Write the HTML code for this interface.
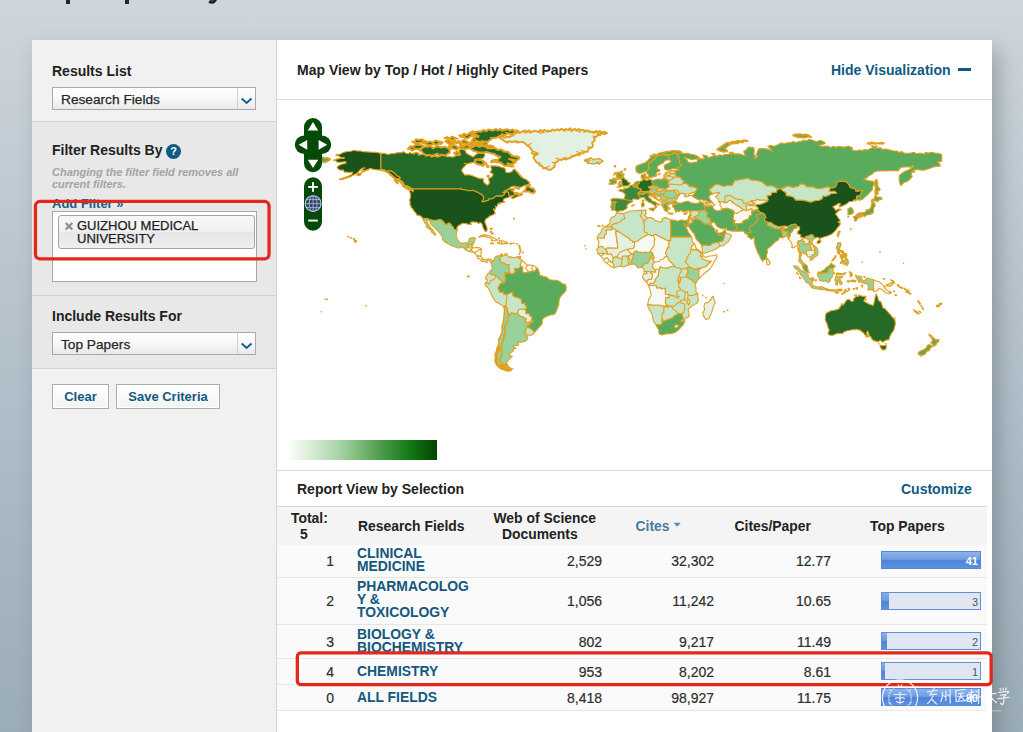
<!DOCTYPE html>
<html>
<head>
<meta charset="utf-8">
<title>InCites Essential Science Indicators</title>
<style>
*{box-sizing:border-box;margin:0;padding:0}
html,body{width:1023px;height:732px;overflow:hidden}
body{position:relative;font-family:"Liberation Sans",sans-serif;color:#222;
  background:linear-gradient(to bottom,#ced6dc 0px,#c5ced5 110px,#aebdc7 410px,#9aacb6 732px);}
.abs{position:absolute}
.b{font-weight:bold}
.h{position:absolute;font-weight:bold;font-size:14px;line-height:16px;white-space:nowrap;color:#222}
.blue{color:#105a82}
.line{position:absolute;height:1px;background:#d9d9d9}
.sel{position:absolute;left:52px;width:204px;height:23px;border:1px solid #a9a9a9;
  background:linear-gradient(to bottom,#ffffff 0%,#f6f6f6 55%,#e9e9e9 100%);font-size:13.7px;line-height:23.4px;padding-left:8px;color:#262626;white-space:nowrap;-webkit-text-stroke:0.25px #262626}
.sel i{position:absolute;right:0;top:0;width:18px;height:21px;border-left:1px solid #cfcfcf}
.btn{position:absolute;top:384px;height:25px;border:1px solid #adadad;background:linear-gradient(to bottom,#ffffff,#f3f3f3);box-shadow:inset 0 0 0 1px #fff;color:#15597f;font-weight:bold;font-size:13px;line-height:23px;text-align:center;white-space:nowrap}
.th{position:absolute;font-weight:bold;font-size:13.9px;line-height:16px;color:#222;white-space:nowrap}
.num{position:absolute;font-size:14px;line-height:16px;color:#2e2e2e;-webkit-text-stroke:0.2px #2e2e2e;text-align:right;white-space:nowrap;width:80px}
.fld{position:absolute;left:357px;font-weight:bold;font-size:13.9px;line-height:13px;color:#14587e;white-space:nowrap}
.bar{position:absolute;left:881px;width:100px;height:18px;border:1px solid #5f8fd6;background:#dfe6f2;overflow:hidden}
.bar b{position:absolute;left:0;top:0;bottom:0;background:linear-gradient(to bottom,#86aee9 0%,#6c9be1 46%,#4d84d8 54%,#5b91de 100%)}
.bar span{position:absolute;right:2px;top:3px;font-size:11px;line-height:13px;color:#555}
.bar.full{border-color:#5588d4;background:linear-gradient(to bottom,#8db4eb 0%,#709de2 46%,#4d84d8 54%,#5b91de 100%)}
.bar.full span{color:#fff;font-weight:bold}
.rowbg{position:absolute;left:277px;width:710px;background:#fafafa}
.rline{position:absolute;left:277px;width:710px;height:1px;background:#e6e6e6}
.red{position:absolute;border:2.5px solid #e6332a;border-radius:5px}
</style>
</head>
<body>
<!-- cut-off page heading descenders -->
<div class="abs" style="left:66px;top:0;width:4px;height:4px;background:#2a2622"></div>
<div class="abs" style="left:125px;top:0;width:4px;height:4px;background:#2a2622"></div>
<svg class="abs" style="left:206px;top:0" width="14" height="6"><path d="M3.2 1.2 Q5.5 2.6 7.6 1.6 Q9 0.8 9.6 -1" fill="none" stroke="#2a2622" stroke-width="3.4"/></svg>

<!-- panel shadow -->
<div class="abs" style="left:32px;top:40px;width:960px;height:720px;box-shadow:7px 10px 18px 0px rgba(70,82,90,.36)"></div>

<!-- sidebar -->
<div class="abs" style="left:32px;top:40px;width:245px;height:692px;background:#f1f1f1;border-right:1px solid #d6d6d6"></div>
<div class="abs" style="left:32px;top:121px;width:244px;height:247px;background:#e8e8e8"></div>
<div class="line" style="left:32px;top:121px;width:244px;background:#d3d3d3"></div>
<div class="line" style="left:32px;top:295px;width:244px;background:#d3d3d3"></div>
<div class="line" style="left:32px;top:368px;width:244px;background:#d3d3d3"></div>

<div class="h" style="left:52px;top:63px">Results List</div>
<div class="sel" style="top:87px">Research Fields<i><svg width="18" height="21" style="position:absolute;left:0;top:0"><path d="M3.7 10.4 L8.6 15 L13.5 10.4" fill="none" stroke="#18608a" stroke-width="2"/></svg></i></div>

<div class="h" style="left:52px;top:142px">Filter Results By</div>
<div class="abs" style="left:166px;top:144px;width:15px;height:15px;border-radius:50%;background:#0e5a82;color:#fff;font-weight:bold;font-size:11px;line-height:15px;text-align:center">?</div>
<div class="abs" style="left:52px;top:167px;font-size:11px;line-height:11.5px;font-style:italic;font-weight:bold;color:#a3a3a3;white-space:nowrap">Changing the filter field removes all<br>current filters.</div>
<div class="h blue" style="left:52px;top:195.8px;font-size:13px;color:#15608c">Add Filter »</div>
<div class="abs" style="left:52px;top:211px;width:205px;height:71px;background:#fff;border:1px solid #a8a8a8"></div>
<div class="abs" style="left:58px;top:215px;width:197px;height:34px;border:1px solid #a4a4a4;border-radius:3px;background:linear-gradient(to bottom,#f7f7f7 0%,#f0f0f0 50%,#e6e6e6 52%,#efefef 100%)"></div>
<svg class="abs" style="left:64px;top:221px" width="10" height="10"><path d="M1.7 1.9 L8.3 8.5 M8.3 1.9 L1.7 8.5" stroke="#8b8b8b" stroke-width="2.1" fill="none"/></svg>
<div class="abs" style="left:77px;top:219.2px;font-size:13px;line-height:13px;color:#1c1c24;white-space:nowrap;-webkit-text-stroke:0.25px #1c1c24">GUIZHOU MEDICAL<br>UNIVERSITY</div>
<svg class="abs" style="left:30px;top:196px" width="246" height="70" viewBox="30 196 246 70"><rect x="35.45" y="201.45" width="233.6" height="57.4" rx="4.6" ry="4.6" fill="none" stroke="#e4271d" stroke-width="3.3"/></svg>

<div class="h" style="left:52px;top:308px">Include Results For</div>
<div class="sel" style="top:332px">Top Papers<i><svg width="18" height="21" style="position:absolute;left:0;top:0"><path d="M3.7 10.4 L8.6 15 L13.5 10.4" fill="none" stroke="#18608a" stroke-width="2"/></svg></i></div>

<div class="btn" style="left:52px;width:57px">Clear</div>
<div class="btn" style="left:116px;width:104px">Save Criteria</div>

<!-- main panel -->
<div class="abs" style="left:277px;top:40px;width:715px;height:692px;background:#fff"></div>
<div class="h" style="left:297px;top:62px">Map View by Top / Hot / Highly Cited Papers</div>
<div class="h blue" style="left:831px;top:62px">Hide Visualization</div>
<div class="abs" style="left:958px;top:68px;width:13px;height:3px;background:#105a82"></div>
<div class="line" style="left:277px;top:99px;width:715px"></div>

<svg class="abs" style="left:0;top:0" width="1023" height="732" viewBox="0 0 1023 732"><g stroke="#e3a01f" stroke-width="1.1" stroke-linejoin="round">
<path fill="#f5f8f3" d="M471.3,244.3L472.8,243.0L473.1,244.8L471.7,247.6L471.3,247.6ZM469.7,251.4L471.0,250.2L471.0,250.2L472.4,251.0L473.7,252.0L473.7,252.2L471.9,252.3ZM471.0,250.2L471.3,249.1L472.8,247.9L474.2,247.7L476.8,247.6L478.6,247.5L480.3,248.1L481.8,249.2L478.9,249.5L477.2,251.1L475.4,252.2L474.4,252.8L473.7,252.2L473.7,252.0L472.4,251.0L471.0,250.2ZM474.4,252.8L475.4,252.2L477.2,251.1L478.9,249.5L481.8,249.2L481.2,251.1L481.0,253.6L480.9,256.3L479.1,256.1L477.3,256.0L475.8,254.4ZM478.6,237.1L482.1,235.1L484.7,234.9L487.3,235.3L490.8,236.3L494.3,238.3L497.5,240.0L496.0,240.6L491.3,240.7L492.2,239.3L489.9,237.8L486.4,236.9L483.8,236.2L481.2,236.7ZM497.1,242.9L499.9,243.7L501.8,244.3L501.8,240.7L499.0,240.6L499.9,242.2ZM501.8,244.3L504.8,243.4L507.6,243.6L507.7,242.9L505.1,241.6L501.8,240.7ZM490.3,243.4L493.8,243.9L493.4,243.0L491.1,243.0ZM509.7,243.2L512.3,243.2L512.1,243.9L509.7,243.9ZM518.9,256.7L520.7,256.5L520.5,257.8L519.1,257.8ZM521.0,266.3L519.8,265.1L520.3,264.9L520.2,263.7L521.0,262.3L522.2,260.5L524.9,262.8L527.1,265.0L527.0,266.3L525.9,267.4L525.7,268.6L527.0,269.6L528.4,272.1L528.4,272.1L525.7,272.7L524.2,273.1L522.9,272.2L522.3,270.7L522.9,268.4L522.1,267.5L522.2,266.5L521.0,266.3ZM528.4,272.1L527.0,269.6L525.7,268.6L525.9,267.4L527.0,266.3L527.1,265.0L529.4,265.1L532.7,265.3L532.0,266.7L531.9,268.4L532.7,269.3L531.7,271.4L531.7,271.4L529.4,271.9L528.4,272.1ZM531.7,271.4L532.7,269.3L531.9,268.4L532.0,266.7L532.7,265.3L534.7,266.1L536.8,268.1L536.2,268.9L535.2,271.0L531.7,271.4ZM611.9,227.5L611.9,229.8L606.1,229.8L606.1,234.3L604.4,235.1L604.4,238.0L597.5,238.0L597.3,239.0L598.8,241.4L598.3,247.3L601.8,246.3L603.9,248.1L605.8,249.6L607.0,248.1L617.5,248.3L617.8,246.9L615.7,231.6L618.7,231.6ZM694.6,243.9L691.8,245.7L690.9,248.8L690.8,250.5L693.3,249.4L695.3,249.9L698.4,250.8L701.2,253.6L702.4,253.2L699.1,250.1L696.1,248.3ZM702.4,253.2L701.2,253.6L700.1,256.2L701.9,256.3L702.7,255.3L702.8,254.5ZM702.7,255.3L701.9,256.3L702.2,258.6L704.0,259.7L709.2,261.4L711.0,261.4L705.7,266.7L702.2,267.4L700.3,268.5L698.7,270.5L698.7,276.7L699.7,278.2L701.4,276.0L703.1,274.5L706.3,271.8L709.2,269.7L711.0,267.5L713.3,264.0L714.1,261.6L715.9,259.0L716.9,257.2L716.7,254.8L712.7,255.7L709.2,256.0L705.7,257.2L704.9,257.2ZM648.4,285.3L649.5,284.0L650.0,283.3L652.3,283.8L653.7,282.8L655.1,281.4L655.4,279.2L658.2,276.2L658.7,271.5L659.6,269.3L656.1,269.3L655.4,271.5L655.2,272.4L652.4,271.5L650.3,271.5L650.3,273.1L651.9,273.0L652.4,276.4L651.4,279.3L648.9,279.3L647.4,280.2L646.5,282.2ZM644.2,273.6L646.9,273.6L646.9,271.5L644.2,271.4ZM655.4,271.5L655.2,270.3L653.7,268.7L652.8,267.4L652.4,264.6L654.2,262.3L655.9,262.0L659.6,261.3L660.3,259.7L662.7,259.5L665.0,256.9L667.1,256.4L668.2,257.9L669.0,260.2L670.8,262.0L673.4,264.9L675.0,266.6L670.8,266.7L666.4,268.2L662.9,267.7L660.3,266.8L659.6,269.3L656.1,269.3ZM651.7,252.5L653.1,254.1L653.5,256.5L654.4,257.9L651.6,258.1L653.7,260.6L654.2,262.3L655.9,262.0L659.6,261.3L660.3,259.7L662.7,259.5L665.0,256.9L667.1,256.4L665.5,253.2L666.4,250.9L667.3,247.9L669.0,247.9L669.0,241.3L655.1,234.3L653.3,235.1L654.9,239.7L654.2,240.4L654.2,245.8L650.7,250.2L650.9,251.5ZM648.1,234.2L640.2,238.8L637.2,241.3L634.5,241.9L634.4,245.8L633.2,248.5L629.4,248.7L627.4,249.2L628.7,251.6L630.8,253.2L630.9,254.6L632.1,253.8L633.4,255.0L634.3,251.8L636.7,251.1L639.0,252.5L640.7,252.2L642.8,253.0L644.6,252.3L648.9,252.5L650.9,251.5L650.7,250.2L654.2,245.8L654.2,240.4L654.9,239.7L653.3,235.1L651.9,235.8ZM613.9,267.8L614.0,265.3L612.4,262.1L610.7,262.5L610.5,260.7L609.1,260.6L607.0,263.3L608.2,264.4L611.4,266.7ZM607.0,263.3L609.1,260.6L608.6,259.3L607.5,257.9L605.4,258.1L603.9,259.6L604.0,260.7L605.3,262.5ZM603.9,259.6L605.4,258.1L607.5,257.9L608.6,259.3L609.1,260.6L610.5,260.7L610.7,262.5L612.4,262.1L612.6,260.6L613.3,257.6L612.6,256.2L611.4,253.7L608.4,254.4L607.2,253.7L605.4,253.8L603.2,253.3L603.2,255.0L601.4,255.3L600.9,256.3L601.8,257.2L603.2,258.8ZM600.9,256.3L601.4,255.3L603.2,255.0L603.2,253.3L597.9,253.8L599.1,254.8ZM648.6,285.6L649.8,285.5L656.1,285.5L656.8,288.0L661.0,287.5L661.2,289.0L665.2,288.0L665.5,294.5L669.0,294.2L669.0,297.8L665.5,297.8L665.5,303.3L668.0,305.7L663.8,306.3L659.4,305.3L651.9,305.3L650.7,304.7L647.6,305.1L648.1,302.6L648.9,298.7L650.5,297.1L651.2,294.4L650.2,290.6ZM702.6,295.0L703.1,295.4L702.8,295.9ZM705.7,297.3L706.3,297.5L705.9,297.8ZM727.2,309.8L728.1,310.1L727.6,310.6ZM723.7,311.3L724.6,311.7L724.1,312.2ZM723.9,283.3L724.3,283.5L724.1,283.7ZM584.6,245.8L585.5,245.7L585.2,246.2ZM585.7,248.8L586.2,249.0L585.9,249.4ZM718.8,201.9L722.9,201.5L725.0,202.7L726.7,202.7L729.5,200.2L732.0,201.1L732.1,202.5L733.7,202.9L736.3,205.0L739.8,206.8L743.4,209.7L739.8,211.6L736.7,213.4L734.0,212.7L734.0,211.0L730.7,209.5L727.1,208.2L724.1,208.6L721.3,209.7L721.3,207.0L719.7,205.0L720.6,203.6ZM734.0,212.7L736.7,213.4L739.8,211.6L743.4,209.7L745.6,210.0L748.2,210.2L749.8,209.3L752.0,208.6L752.2,210.9L755.2,209.5L758.0,209.9L757.3,210.3L752.9,211.2L751.5,211.9L752.0,213.9L751.3,215.5L749.4,215.8L749.3,217.3L748.2,219.2L746.3,219.6L743.1,221.2L743.0,222.9L738.9,223.8L736.3,223.8L733.5,223.0L735.1,221.0L733.3,220.1L733.0,217.4L733.7,214.8ZM788.4,239.2L788.9,238.1L788.9,236.9L790.0,236.5L790.1,233.3L792.4,231.2L793.5,228.8L796.6,227.9L797.1,225.9L799.6,227.0L799.6,229.8L798.0,231.1L797.7,233.5L799.9,234.6L801.0,235.1L800.5,236.7L801.9,237.4L803.9,237.7L802.9,238.8L802.0,239.8L800.1,240.7L798.4,240.9L797.3,243.0L798.0,242.9L797.8,244.4L799.9,246.7L799.4,247.4L798.7,249.2L800.3,252.3L801.2,254.8L800.5,256.2L799.3,257.9L799.4,253.7L798.5,250.9L797.8,249.2L797.7,246.5L796.6,245.7L794.9,246.9L793.8,247.9L791.7,247.4L792.2,245.1L791.4,242.5L789.4,240.2ZM845.5,291.3L849.6,289.9L849.0,290.6L845.7,291.8ZM873.5,291.1L873.5,279.9L877.0,281.2L878.0,281.5L879.8,282.1L881.9,284.4L884.0,285.7L885.4,286.3L885.4,286.9L884.0,287.0L885.7,289.2L888.0,290.9L890.7,293.1L889.2,293.7L885.7,292.8L884.3,291.8L882.2,289.4L879.6,288.5L877.9,289.5L877.5,290.7L876.1,291.3ZM325.1,298.7L326.2,298.7L325.8,299.2ZM326.7,299.2L327.6,299.3L327.1,299.7ZM320.8,311.7L321.3,311.7L321.1,312.0ZM365.7,305.5L366.5,305.7L366.2,306.2ZM879.8,251.6L880.3,251.8L880.1,252.3ZM862.1,262.0L862.5,262.3L862.1,262.6ZM903.4,263.2L903.7,263.3L903.6,263.5Z"/>
<path fill="#f5f8f3" stroke-width="1.4" d="M886.3,285.0L889.2,284.0L891.8,282.6L893.1,282.6L892.7,284.0L890.1,286.1L887.5,286.1ZM890.6,279.9L893.6,281.2L894.5,283.0L893.8,282.3L891.5,280.5ZM897.3,284.7L898.5,285.0L899.5,287.1L898.3,286.4ZM883.3,278.8L884.7,278.8L884.0,279.3ZM890.1,291.6L891.3,292.3L890.6,292.6ZM893.6,290.9L894.5,291.3L893.9,291.6ZM895.0,294.9L896.6,295.0L895.9,295.6ZM913.7,310.0L916.3,311.3L918.9,313.7L917.9,313.7L915.1,311.8ZM919.1,311.2L919.8,311.5L919.3,311.8ZM920.3,312.2L920.9,312.4L920.5,312.7Z"/>
<path fill="#f5f8f3" stroke-width="1.5" d="M490.3,228.8L492.0,228.4L491.7,229.3ZM490.4,231.6L491.3,231.4L491.0,232.8ZM491.8,233.5L493.1,233.0L492.7,234.0ZM498.5,238.5L499.4,238.3L499.0,238.8Z"/>
<path fill="#f5f8f3" stroke-width="1.6" d="M519.1,245.3L519.5,245.5L519.1,245.7ZM519.3,246.9L520.0,246.9L519.6,247.4ZM519.6,248.3L520.0,248.5L519.8,248.8ZM520.2,249.5L520.7,249.9L520.5,250.2ZM520.3,250.9L520.7,251.1L520.5,251.5ZM520.0,252.2L520.3,252.3L520.2,252.5ZM522.8,252.2L523.3,252.3L522.9,252.7ZM519.1,254.1L519.5,254.3L519.3,254.4ZM516.8,243.7L517.2,243.7L517.0,243.9ZM513.7,243.2L514.2,243.2L513.9,243.4ZM506.2,253.7L506.9,254.1L506.5,254.3ZM513.9,218.5L514.2,218.7L514.0,218.8ZM614.3,165.9L615.6,165.9L615.0,166.8ZM900.6,286.9L902.3,288.0L901.5,288.2ZM904.1,288.3L906.4,289.9L905.0,289.5ZM906.0,291.4L908.1,292.3L906.7,292.5ZM907.9,289.9L909.0,291.8L908.3,290.9ZM909.0,293.0L910.7,293.8L909.8,294.0ZM918.2,300.7L919.3,302.3L918.4,302.3ZM919.3,302.9L920.3,303.8L919.6,304.0ZM921.0,305.7L921.6,306.0L921.0,306.2ZM922.4,307.6L923.0,307.9L922.6,308.1ZM923.0,308.8L923.3,309.1L923.0,309.3ZM936.9,305.3L939.2,305.7L939.0,306.5L936.9,306.5ZM939.4,304.0L941.7,303.3L941.3,304.3L939.6,304.7Z"/>
<path fill="#e2f1e1" d="M477.3,256.0L479.1,256.1L480.9,256.3L482.8,258.7L482.2,259.7L482.2,261.3L480.8,260.2L479.1,258.6L477.2,257.9ZM482.2,261.3L482.2,259.7L482.8,258.7L484.7,260.0L487.3,259.2L489.9,259.0L491.8,260.3L492.2,261.6L491.0,262.8L490.1,261.4L488.2,259.9L486.6,261.1L487.3,262.5L485.6,262.1L484.3,261.4ZM517.6,313.6L520.5,316.3L522.2,316.6L526.4,318.9L524.7,322.1L527.5,322.6L529.4,322.3L531.2,321.2L531.7,319.4L531.7,319.4L532.2,316.8L530.3,316.5L529.6,313.7L525.9,313.4L526.0,311.3L525.5,310.0L525.5,310.0L523.8,308.7L519.1,309.2L518.2,310.7L517.6,313.6ZM659.4,200.7L657.9,199.7L655.4,197.6L654.6,196.5L654.7,195.8L656.8,195.8L660.3,196.4L661.0,197.4L660.7,198.8L660.1,199.1ZM659.4,200.7L660.1,199.1L660.7,198.8L662.6,199.7L662.1,200.5L661.0,201.7ZM661.0,201.7L662.1,200.5L663.1,201.7L662.9,203.1L663.8,203.5L663.3,204.5L662.1,205.5L661.0,204.3L661.2,202.7ZM663.1,201.7L664.7,201.0L666.2,200.9L667.2,202.6L663.8,203.5L662.9,203.1ZM673.6,190.4L676.2,192.8L676.4,195.3L676.9,195.2L679.7,193.6L678.1,191.7L678.0,190.8L675.3,190.0ZM678.8,277.8L680.3,277.2L681.0,279.4L679.4,280.2L677.8,280.0ZM677.8,280.0L679.4,280.2L681.0,279.4L680.4,281.1L679.2,283.1L678.3,283.0L678.1,281.1ZM646.5,282.2L647.4,280.2L648.9,279.3L651.4,279.3L652.4,276.4L651.9,273.0L650.3,273.1L650.3,271.5L646.9,271.5L646.9,273.6L644.2,273.6L643.5,274.7L642.3,276.5L643.9,279.5ZM622.3,258.6L622.2,256.2L626.8,256.0L628.7,256.2L630.9,254.6L630.8,253.2L628.7,251.6L627.4,249.2L623.6,250.6L620.1,252.2L617.5,255.5L617.5,257.2L619.6,258.5ZM605.8,249.6L607.0,248.1L617.5,248.3L617.8,246.9L615.7,231.6L618.7,231.6L629.2,238.5L630.2,239.9L632.7,240.7L632.9,242.2L634.5,241.9L634.4,245.8L633.2,248.5L629.4,248.7L627.4,249.2L623.6,250.6L620.1,252.2L617.5,255.5L617.5,257.2L616.3,257.1L613.3,257.6L612.6,256.2L611.4,253.7L608.4,254.4L607.2,253.7L607.2,252.0ZM713.3,296.1L713.9,299.3L715.3,302.8L714.1,304.7L713.4,306.7L711.7,312.4L710.4,314.9L709.2,318.4L706.1,319.4L703.4,315.6L702.8,312.9L704.7,309.8L704.0,306.4L704.7,303.3L708.0,302.4L710.8,299.5L712.4,296.9ZM696.9,199.0L700.5,199.3L703.1,200.0L705.7,200.2L708.2,201.7L708.7,202.7L705.7,202.8L703.0,203.1L701.9,202.3L699.7,202.4L700.0,201.6L699.4,200.2ZM703.0,203.1L705.7,202.8L706.8,204.3L708.4,205.9L708.4,207.0L705.7,206.1L705.4,205.5L703.5,204.8ZM751.1,201.0L751.2,200.5L755.5,200.7L756.4,199.3L759.9,199.9L765.2,200.0L767.2,201.4L763.4,203.2L760.8,204.3L756.4,204.8L755.8,206.0L752.0,205.8L749.4,205.8L750.3,204.6L752.4,204.8L754.8,203.5L752.7,202.7ZM745.6,210.0L746.6,208.2L745.6,206.3L747.0,204.8L750.3,204.6L749.4,205.8L752.0,205.8L755.8,206.0L758.2,207.7L758.0,209.9L755.2,209.5L752.2,210.9L752.0,208.6L749.8,209.3L748.2,210.2ZM787.3,226.6L788.0,228.3L784.4,228.5L782.4,228.1L782.5,227.5L783.5,226.1L785.2,226.1ZM767.2,258.3L769.0,260.6L770.2,262.6L769.7,264.2L767.9,265.0L766.9,264.4L766.6,262.3L766.7,259.9ZM802.0,239.8L802.9,238.8L803.9,237.7L805.0,238.3L805.6,236.2L807.1,238.6L808.8,239.7L810.4,241.1L808.7,241.6L810.9,243.2L813.4,245.8L815.1,249.2L815.0,249.7L812.3,250.3L810.9,250.3L811.6,247.9L810.1,246.5L810.1,245.0L808.7,243.4L806.4,244.0L805.5,244.1L803.6,244.8L804.1,241.3L802.7,241.3ZM806.9,255.0L806.0,251.6L807.1,250.5L810.9,250.3L812.3,250.3L815.0,249.7L815.0,253.9L812.3,255.0L812.0,256.2L809.6,257.2L808.0,256.9L807.1,255.7Z"/>
<path fill="#e2f1e1" stroke-width="1.9" d="M499.5,137.8L501.4,136.4L504.9,137.6L507.4,136.6L510.0,136.7L513.5,135.2L510.0,134.2L512.8,134.6L515.3,133.3L517.9,131.9L519.5,133.0L522.2,131.7L525.0,130.4L526.9,132.3L529.2,130.3L531.2,132.4L534.3,130.6L536.2,131.2L538.4,132.1L540.5,130.0L542.4,132.0L544.3,129.9L546.6,131.4L548.5,130.5L550.8,131.4L552.7,129.5L554.7,130.7L557.0,129.3L559.0,130.3L561.6,128.9L563.8,130.4L565.9,129.1L568.2,129.8L570.4,128.2L572.4,130.5L574.6,128.7L576.6,130.5L579.1,129.0L580.9,130.4L583.4,130.0L585.8,131.4L587.5,130.2L590.3,131.8L592.1,131.7L593.8,133.0L596.4,130.9L597.6,133.1L599.8,131.0L602.4,133.1L604.4,131.7L606.1,132.6L604.8,134.2L600.9,133.0L600.2,135.2L597.4,135.2L596.5,136.9L593.9,137.8L594.8,140.4L592.1,143.0L593.0,145.6L591.9,147.6L588.7,148.2L587.8,151.7L584.8,151.6L583.4,153.4L580.5,153.2L579.5,155.3L576.9,154.6L574.7,155.8L571.7,156.3L570.2,158.3L567.7,158.6L565.7,159.6L563.4,158.5L561.6,160.0L559.3,159.6L557.2,161.6L555.2,162.8L554.6,165.0L554.5,166.9L552.3,168.5L550.4,170.0L547.6,169.4L545.7,168.0L543.2,168.2L541.9,165.8L539.7,165.6L538.8,163.3L536.8,162.6L534.5,159.5L533.3,156.9L536.2,154.8L538.0,153.8L536.2,152.5L534.0,154.2L531.9,153.2L532.7,151.2L531.0,149.1L529.2,146.5L527.3,145.7L525.7,143.9L523.2,141.9L520.5,142.1L516.9,142.5L514.7,141.4L511.8,142.0L509.1,141.1L507.4,142.7L504.8,141.3L503.0,139.9Z"/>
<path fill="#c7e5c7" d="M466.0,250.0L466.0,248.8L466.9,247.2L469.1,247.2L469.1,246.7L467.4,245.2L468.1,245.2L468.1,244.3L471.3,244.3L471.3,244.3L471.3,247.6L471.7,247.6L472.8,247.9L472.8,247.9L471.3,249.1L471.0,250.2L471.0,250.2L469.7,251.4L467.6,251.1ZM510.3,273.3L509.8,272.4L508.6,270.5L509.5,269.4L508.5,267.5L508.6,266.1L509.2,264.6L505.8,264.7L504.6,263.2L500.6,262.5L500.4,260.7L499.5,258.3L500.8,256.0L502.5,254.8L502.0,256.4L504.4,255.5L504.8,254.1L505.3,255.3L507.6,255.8L508.3,257.1L511.8,256.9L513.7,257.8L517.0,256.7L518.9,256.7L517.7,257.4L520.9,259.2L522.2,260.5L521.0,262.3L520.2,263.7L520.3,264.9L519.8,265.1L521.0,266.3L521.0,266.3L519.6,267.7L517.4,268.9L514.9,268.2L514.6,271.0L516.3,271.5L515.3,272.1L513.0,273.8L511.2,274.0L510.3,273.3ZM489.4,272.9L487.3,274.0L487.1,275.5L485.7,277.1L485.7,279.2L487.5,279.9L486.8,281.2L486.6,283.0L488.2,283.9L489.7,283.3L490.3,281.2L491.1,280.5L493.2,279.9L495.1,278.0L495.5,275.5L493.8,274.7L491.8,274.7ZM495.5,275.5L495.1,278.0L493.2,279.9L491.1,280.5L490.3,281.2L489.7,283.3L488.2,283.9L486.6,283.0L486.8,281.2L485.0,283.5L485.4,285.6L487.5,287.3L489.0,289.5L490.4,292.6L492.3,296.2L493.8,299.2L495.7,301.7L498.7,303.5L501.3,304.7L502.5,305.8L504.1,307.0L505.6,305.5L506.5,303.3L506.2,301.7L505.8,300.9L506.7,299.9L506.8,297.5L507.1,296.9L505.6,294.3L503.7,294.4L503.7,291.8L500.9,292.6L499.7,291.6L499.2,291.6L499.6,290.9L497.8,288.2L498.3,287.3L499.4,285.7L499.7,284.4L501.5,283.1L503.4,282.6L504.9,282.6L503.6,281.9L499.7,279.5L497.8,277.1ZM505.6,305.5L506.6,307.9L507.5,308.8L507.0,310.5L507.9,312.0L508.4,314.7L509.7,314.6L509.7,314.6L511.4,312.9L513.2,313.4L514.7,314.7L515.4,313.2L517.6,313.6L517.6,313.6L518.2,310.7L519.1,309.2L523.8,308.7L525.5,310.0L525.5,310.0L526.3,308.1L526.6,306.7L525.0,305.2L525.0,303.5L521.9,303.4L521.4,301.4L521.4,299.2L518.8,298.0L516.7,297.2L514.6,296.8L513.0,295.6L512.9,292.3L510.7,292.5L507.2,294.5L505.6,294.3L505.6,294.3L507.1,296.9L506.8,297.5L506.7,299.9L505.8,300.9L506.2,301.7L506.5,303.3L505.6,305.5ZM533.8,333.2L532.7,334.5L531.1,335.3L528.9,335.2L526.1,334.4L525.0,333.5L525.0,333.5L525.6,330.8L526.1,328.5L526.4,327.2L526.4,327.2L527.8,327.0L529.9,328.3L531.7,329.4L534.1,331.4L533.8,333.2ZM656.7,189.7L657.2,189.3L658.9,188.5L660.0,188.1L661.2,188.0L662.1,188.7L663.8,188.3L666.5,188.9L665.8,190.1L662.9,189.9L662.1,190.4L660.0,191.2L658.2,191.2L657.1,190.8ZM669.7,173.6L669.9,172.8L668.2,172.2L668.2,171.3L671.7,170.6L676.0,170.9L675.0,172.0L675.2,173.7L674.9,174.2L672.5,173.6L671.3,173.4ZM665.5,172.3L667.3,172.3L666.9,173.2L665.5,173.2ZM663.9,176.8L665.5,176.1L670.8,176.1L673.6,177.4L676.4,176.6L675.7,174.6L674.9,174.2L672.5,173.6L671.3,173.4L669.7,173.6L669.2,175.1L667.6,174.9L666.6,173.8L665.0,174.1L663.8,175.1ZM663.9,176.8L665.5,176.1L670.8,176.1L673.6,177.4L673.9,178.1L672.2,178.7L671.7,179.8L668.2,180.4L666.9,179.7L666.6,178.5L664.3,178.1ZM668.2,180.4L671.7,179.8L672.2,178.7L673.9,178.1L673.6,177.4L676.4,176.6L679.5,177.1L681.1,177.5L681.3,179.1L684.2,181.3L682.7,183.6L680.4,185.0L674.6,184.5L670.8,184.0L668.4,184.6L667.6,183.3L668.9,182.6ZM668.4,184.6L670.8,184.0L674.6,184.5L680.4,185.0L682.7,183.6L686.2,183.2L689.1,185.5L689.3,186.6L692.6,186.6L695.1,187.4L697.2,188.0L696.5,190.8L693.9,192.4L691.4,193.1L688.4,194.0L688.3,194.9L688.8,195.6L690.9,195.5L689.0,196.1L685.8,197.2L683.9,195.5L686.0,194.1L682.7,193.3L680.8,193.5L678.9,195.8L676.4,195.3L676.9,195.2L679.7,193.6L678.1,191.7L678.0,190.8L675.3,190.0L673.6,190.4L669.9,190.9L667.1,190.8L665.8,190.1L666.5,188.9L666.7,188.0L669.2,186.4ZM623.3,213.7L621.9,213.4L619.2,213.5L617.8,212.3L616.8,212.5L615.2,215.7L613.8,216.4L610.8,218.3L610.0,220.1L610.3,222.0L609.3,224.0L607.0,225.8L604.0,226.9L611.9,226.9L611.9,225.0L614.9,223.6L617.8,222.9L620.8,221.5L621.9,219.6L625.0,218.8L624.1,216.2L624.0,214.8ZM611.9,226.9L604.0,226.9L601.8,229.5L601.1,232.1L599.3,233.9L597.6,236.5L597.2,237.9L597.3,239.0L597.5,238.0L604.4,238.0L604.4,235.1L606.1,234.3L606.1,229.8L611.9,229.8L611.9,227.5ZM623.3,213.7L624.0,214.8L624.1,216.2L625.0,218.8L621.9,219.6L620.8,221.5L617.8,222.9L614.9,223.6L611.9,225.0L611.9,226.9L611.9,227.5L618.7,231.6L629.2,238.5L630.2,239.9L632.7,240.7L632.9,242.2L634.5,241.9L637.2,241.3L640.2,238.8L648.1,234.2L647.2,232.8L644.6,232.1L643.5,229.6L644.4,228.9L644.4,225.8L643.7,222.3L642.9,219.0L640.2,215.8L641.6,214.4L641.4,212.1L642.1,210.4L639.3,210.2L636.0,210.8L632.3,210.7L629.7,211.2L626.1,212.6ZM642.1,210.4L641.4,212.1L641.6,214.4L640.2,215.8L642.9,219.0L643.7,222.3L644.9,221.5L645.1,219.7L647.2,218.5L647.3,217.2L646.7,217.1L644.7,215.8L644.7,215.1L646.5,213.5L645.4,212.5L645.6,211.4L646.4,210.3L644.2,209.7ZM647.3,217.2L647.2,218.5L645.1,219.7L644.9,221.5L643.7,222.3L644.4,225.8L644.4,228.9L643.5,229.6L644.6,232.1L647.2,232.8L648.1,234.2L651.9,235.8L653.3,235.1L655.1,234.3L669.0,241.3L669.0,240.4L670.8,240.4L670.8,236.9L670.8,224.2L670.3,222.4L671.0,219.8L669.0,219.2L667.5,218.1L664.7,217.6L662.2,219.0L662.1,221.0L660.7,222.2L657.7,221.2L654.5,220.3L653.5,218.5L650.2,217.6ZM691.6,236.9L670.8,236.9L670.8,240.4L669.0,240.4L669.0,241.3L669.0,247.9L667.3,247.9L666.4,250.9L665.5,253.2L667.1,256.4L668.2,257.9L669.0,260.2L670.8,262.0L673.4,264.9L675.0,266.6L676.0,267.7L678.7,267.7L681.0,269.3L681.3,268.9L684.8,268.7L686.5,268.1L689.8,267.4L688.8,266.0L686.5,263.2L684.8,261.6L686.7,260.4L687.0,257.1L688.1,256.5L688.4,254.8L690.2,253.2L690.8,250.5L690.9,248.8L691.8,245.7L694.6,243.9L692.1,241.1L692.1,238.6ZM690.8,250.5L693.3,249.4L695.3,249.9L698.4,250.8L701.2,253.6L701.2,253.6L700.1,256.2L701.9,256.3L702.2,258.6L704.0,259.7L709.2,261.4L711.0,261.4L705.7,266.7L702.2,267.4L700.3,268.5L698.4,268.1L696.1,269.4L693.7,269.1L691.6,267.7L689.8,267.4L688.8,266.0L686.5,263.2L684.8,261.6L686.7,260.4L687.0,257.1L688.1,256.5L688.4,254.8L690.2,253.2ZM686.5,277.1L686.3,275.2L687.4,273.4L688.3,272.1L687.2,269.3L686.5,268.1L684.8,268.7L681.3,268.9L681.0,269.3L681.3,271.5L679.4,274.3L678.8,276.2L678.8,277.8L680.3,277.2ZM695.6,283.4L693.0,281.4L692.8,280.5L686.5,277.1L680.3,277.2L681.0,279.4L680.4,281.1L679.2,283.1L678.3,283.0L678.7,286.6L680.8,289.5L681.3,290.2L684.7,291.6L687.4,291.9L688.2,295.3L690.9,295.6L694.4,295.0L697.8,293.5L695.8,291.8L696.1,289.2L695.8,287.1L694.9,285.7ZM648.6,285.6L649.8,285.5L656.1,285.5L656.8,288.0L661.0,287.5L661.2,289.0L665.2,288.0L665.5,294.5L669.0,294.2L671.3,295.4L674.3,296.1L677.8,298.5L679.2,296.4L676.7,295.9L677.1,291.4L680.8,289.5L678.7,286.6L678.3,283.0L678.1,281.1L677.8,280.0L678.8,277.8L678.8,276.2L679.4,274.3L681.3,271.5L681.0,269.3L678.7,267.7L676.0,267.7L675.0,266.6L670.8,266.7L666.4,268.2L662.9,267.7L660.3,266.8L659.6,269.3L658.7,271.5L658.2,276.2L655.4,279.2L655.1,281.4L653.7,282.8L652.3,283.8L650.0,283.3L649.5,284.0L648.4,285.3ZM644.2,271.4L646.9,271.5L650.3,271.5L652.4,271.5L655.2,272.4L655.4,271.5L655.2,270.3L653.7,268.7L652.8,267.4L652.4,264.6L654.2,262.3L653.7,260.6L651.6,258.1L654.4,257.9L653.5,256.5L653.1,254.1L651.7,252.5L651.9,253.7L652.6,255.3L651.2,256.2L648.6,260.6L647.7,263.2L645.6,263.2L643.4,264.6L642.0,267.2L642.8,268.4L643.7,268.6L644.1,269.1ZM631.8,264.3L632.0,259.7L633.4,257.4L633.4,255.0L632.1,253.8L630.9,254.6L628.7,256.2L628.5,257.4L629.9,259.7L629.9,264.5ZM629.9,264.5L629.9,259.7L628.5,257.4L628.7,256.2L626.8,256.0L628.0,257.9L627.8,260.6L628.3,263.5L629.2,264.7ZM629.2,264.7L628.3,263.5L627.8,260.6L628.0,257.9L626.8,256.0L622.2,256.2L622.3,258.6L621.5,263.5L621.7,266.5L623.6,267.1L626.8,265.8ZM621.7,266.5L621.5,263.5L622.3,258.6L619.6,258.5L617.5,257.2L616.3,257.1L613.3,257.6L612.6,260.6L612.4,262.1L614.0,265.3L613.9,267.8L616.6,267.0L620.1,266.3ZM597.9,253.8L603.2,253.3L605.4,253.8L607.2,253.7L607.2,252.0L605.8,249.6L603.9,248.1L601.8,246.3L598.3,247.3L596.5,249.6L597.7,251.3ZM669.0,294.2L669.0,297.8L665.5,297.8L665.5,303.3L668.0,305.7L671.2,306.0L674.3,306.3L677.6,302.9L680.2,302.3L679.9,300.9L685.1,299.5L684.2,298.8L684.8,296.9L685.3,294.4L684.7,291.6L681.3,290.2L680.8,289.5L677.1,291.4L676.7,295.9L679.2,296.4L677.8,298.5L674.3,296.1L671.3,295.4ZM684.7,291.6L685.3,294.4L684.8,296.9L684.2,298.8L685.1,299.5L687.4,300.4L687.0,302.6L688.8,304.8L689.7,302.9L689.7,300.5L687.6,298.5L688.2,295.3L687.4,291.9ZM697.8,293.5L694.4,295.0L690.9,295.6L688.2,295.3L687.6,298.5L689.7,300.5L689.7,302.9L688.8,304.8L687.0,302.6L687.4,300.4L685.1,299.5L679.9,300.9L680.2,302.3L681.3,302.9L684.6,304.1L684.6,307.2L684.6,309.8L683.9,312.0L681.8,313.9L682.9,317.3L683.0,319.9L683.2,321.5L684.6,321.5L684.8,318.8L689.1,316.4L688.8,312.4L688.0,309.5L691.6,306.2L694.2,304.6L697.0,303.3L698.4,300.4L698.0,296.9ZM671.2,306.0L674.3,306.3L677.6,302.9L680.2,302.3L681.3,302.9L684.6,304.1L684.6,307.2L684.6,309.8L683.9,312.0L681.8,313.9L678.5,313.6L675.5,310.6L672.9,308.9ZM671.2,306.0L672.9,308.9L675.5,310.6L678.5,313.6L674.3,316.0L672.4,317.9L669.0,319.4L666.8,320.0L663.3,321.5L662.1,317.9L662.1,313.2L663.8,313.2L663.8,306.9L668.0,306.9ZM647.6,305.1L650.7,304.7L651.9,305.3L659.4,305.3L663.8,306.3L668.0,305.7L671.2,306.0L668.0,306.9L663.8,306.9L663.8,313.2L662.1,313.2L662.1,317.9L662.1,324.1L660.3,325.0L657.7,324.6L655.8,324.5L653.7,321.7L652.4,316.6L652.4,314.7L650.5,311.2L648.1,307.2ZM705.7,202.8L708.7,202.7L708.2,201.7L709.8,202.8L711.9,201.7L713.6,204.0L715.0,204.3L713.4,206.1L712.6,207.8L711.6,206.1L711.0,205.5L708.4,207.0L708.4,205.9L706.8,204.3ZM708.4,224.3L710.5,222.6L710.9,222.7L711.9,222.8L711.3,223.6L711.7,225.3L710.1,225.3ZM719.9,246.3L718.0,242.2L718.0,242.2L723.2,240.4L724.3,236.9L725.0,233.3L725.6,231.7L726.7,233.3L729.5,234.0L731.6,235.9L729.7,239.5L728.1,242.2L726.7,242.3L725.5,244.1L723.2,245.7ZM701.9,246.7L702.6,246.2L702.8,244.8L704.0,245.0L708.2,245.2L710.1,245.5L712.7,242.9L718.0,242.2L719.9,246.3L718.3,247.4L716.2,248.8L712.7,250.4L709.2,251.6L705.7,253.0L703.1,253.3L702.6,251.8L702.1,249.4ZM688.2,223.9L690.0,224.2L691.2,223.0L692.6,222.7L693.5,221.9L691.8,220.1L695.6,218.9L694.9,216.8L691.4,218.7L689.6,217.9L689.2,218.5L689.1,220.1L688.2,223.5ZM689.8,212.2L690.4,212.3L691.1,211.8L691.2,210.7L693.5,210.7L697.0,210.7L701.2,210.2L699.1,211.4L698.7,215.0L694.9,216.8L691.4,218.7L689.6,217.9L689.7,216.9L691.1,215.3L690.0,214.5ZM713.1,193.8L711.9,193.3L708.9,190.1L711.9,187.2L715.9,184.3L718.5,184.3L723.2,186.2L728.5,185.3L732.0,185.5L733.7,182.2L734.6,180.5L741.6,179.3L747.7,178.1L751.5,180.0L755.5,180.3L761.7,181.5L766.9,185.9L772.1,185.5L776.5,188.0L779.7,188.7L777.0,190.1L776.5,192.5L772.1,192.2L770.9,195.2L766.9,196.1L768.3,199.4L767.2,201.4L765.2,200.0L759.9,199.9L756.4,199.3L755.5,200.7L751.2,200.5L751.1,201.0L747.7,202.7L745.9,203.6L743.3,202.9L742.4,199.9L735.4,198.8L733.7,197.4L729.3,195.2L725.0,196.1L725.0,202.7L722.9,201.5L718.8,201.9L718.8,200.0L716.2,197.0L715.0,196.8L716.6,195.6L719.7,192.8L717.8,192.4ZM725.0,202.7L725.0,196.1L729.3,195.2L733.7,197.4L735.4,198.8L742.4,199.9L743.3,202.9L745.9,203.6L747.7,202.7L751.1,201.0L752.7,202.7L754.8,203.5L752.4,204.8L750.3,204.6L747.0,204.8L745.6,206.3L746.6,208.2L745.6,210.0L743.4,209.7L739.8,206.8L736.3,205.0L733.7,202.9L732.1,202.5L732.0,201.1L729.5,200.2L726.7,202.7ZM780.5,188.7L782.5,190.6L785.9,192.8L786.1,195.8L790.5,196.3L793.8,197.5L795.6,200.1L801.9,200.3L805.0,200.6L810.6,202.2L815.0,200.7L819.3,200.3L822.6,198.4L822.7,196.0L825.6,196.6L829.6,194.9L830.9,193.8L836.5,193.2L836.6,192.6L834.2,191.0L833.0,191.4L829.1,191.0L831.0,187.5L827.2,186.8L821.1,188.4L815.8,188.1L813.2,186.7L806.2,186.6L805.7,185.0L800.1,183.8L798.4,186.2L793.1,187.2L787.9,185.9L782.6,188.0ZM467.2,275.9L468.3,276.0L467.9,277.1ZM469.0,276.2L469.5,276.4L469.1,276.7Z"/>
<path fill="#c7e5c7" stroke-width="1.3" d="M584.3,160.4L586.9,158.8L589.5,160.2L588.7,158.8L591.3,157.9L593.8,159.8L595.6,159.1L599.1,158.6L601.8,160.4L603.3,161.2L600.9,162.6L599.4,164.0L596.3,162.7L594.8,164.0L591.3,163.7L587.4,163.3L588.7,162.3L585.2,161.4L588.7,160.7L586.5,161.4ZM650.9,195.3L652.6,195.0L653.8,195.2L654.5,194.0L655.8,193.4L656.1,193.6L657.9,194.5L660.1,194.5L660.5,196.1L660.3,196.4L656.8,195.8L654.7,195.8L654.6,196.5L655.4,197.6L657.9,199.7L659.4,200.7L657.7,199.9L655.8,198.8L653.7,197.6L653.1,196.1L652.3,195.6L651.4,196.5Z"/>
<path fill="#98d19a" d="M422.4,218.3L426.5,218.3L433.0,220.4L438.0,220.4L438.0,219.6L441.0,219.6L443.8,221.7L444.5,223.5L446.9,224.6L448.2,223.1L449.7,223.1L451.0,224.2L451.8,225.8L453.2,227.2L453.9,229.1L455.5,229.7L457.3,229.9L456.4,233.3L456.2,236.3L457.2,239.2L459.0,241.6L459.7,242.5L462.0,243.6L464.9,242.9L467.2,243.0L469.0,240.6L469.3,238.5L471.9,237.7L474.2,237.8L475.4,238.3L474.4,241.3L473.7,243.4L472.8,243.0L471.3,244.3L471.3,244.3L468.1,244.3L468.1,245.2L467.4,245.2L469.1,246.7L469.1,247.2L466.9,247.2L466.0,248.8L466.0,250.0L464.2,248.3L461.8,247.1L459.3,247.9L456.7,247.6L452.5,245.9L448.5,244.0L444.8,242.0L442.6,239.7L442.7,237.8L441.2,234.8L438.4,231.6L435.7,228.8L433.1,226.3L431.0,224.0L429.6,220.6L426.5,219.6L426.7,221.3L428.6,224.5L430.0,226.6L432.6,229.8L434.4,232.8L435.9,234.4L435.0,235.3L434.4,234.4L431.2,231.9L430.9,229.8L428.2,228.4L426.1,226.6L427.5,226.1L424.9,223.1L424.4,222.0L423.3,219.7ZM491.8,260.3L492.9,261.4L494.3,259.2L495.2,256.9L496.4,256.1L499.2,255.7L500.9,254.6L501.9,253.6L502.5,254.8L500.8,256.0L499.5,258.3L500.4,260.7L500.6,262.5L504.6,263.2L505.8,264.7L509.2,264.6L508.6,266.1L508.5,267.5L509.5,269.4L508.6,270.5L509.8,272.4L510.3,273.3L510.3,273.3L509.8,273.3L505.0,272.4L505.0,273.5L506.2,273.6L505.6,274.3L504.7,274.4L504.7,275.7L505.8,277.3L504.9,282.6L504.9,282.6L503.6,281.9L499.7,279.5L497.8,277.1L495.5,275.5L495.5,275.5L493.8,274.7L491.8,274.7L489.4,272.9L490.1,270.8L492.4,268.6L491.7,265.8L491.8,263.9L491.0,262.8L492.2,261.6ZM526.4,327.2L526.1,328.5L525.6,330.8L525.0,333.5L525.0,334.7L527.3,336.0L526.8,337.0L528.0,337.5L526.6,340.4L524.5,341.4L520.5,342.1L518.4,341.8L518.6,343.6L518.2,345.3L515.6,345.8L513.5,345.2L513.3,346.4L516.0,348.2L513.5,348.6L513.5,349.4L513.0,351.6L510.9,352.6L509.1,354.0L510.4,355.7L512.2,356.0L511.9,356.9L509.0,359.6L507.4,361.3L506.2,363.5L507.6,364.8L504.8,364.2L501.5,364.2L500.8,362.0L499.2,360.9L499.4,359.6L500.9,357.9L500.8,356.2L501.8,355.0L502.0,352.3L501.6,350.6L501.8,348.9L501.3,347.2L501.6,345.2L501.8,343.1L503.2,341.4L502.9,339.6L504.1,337.4L503.9,335.7L505.0,334.0L505.1,332.3L504.8,331.3L504.3,328.5L504.9,327.2L505.1,325.1L505.8,324.0L507.4,321.9L507.6,318.8L507.4,317.5L509.7,314.6L509.7,314.6L511.4,312.9L513.2,313.4L514.7,314.7L515.4,313.2L517.6,313.6L517.6,313.6L520.5,316.3L522.2,316.6L526.4,318.9L524.7,322.1L527.5,322.6L529.4,322.3L531.2,321.2L531.7,319.4L531.7,319.4L533.1,320.5L533.1,322.0L531.3,322.6L529.6,324.0L526.4,327.2ZM507.2,365.3L507.2,369.3L510.9,369.5L513.2,368.8L510.9,368.5L508.3,366.5ZM637.2,188.0L637.1,187.6L637.8,187.0L638.5,187.6L638.2,188.2ZM643.9,191.6L643.8,192.4L645.4,192.8L646.3,192.9L648.4,192.6L648.8,193.1L651.0,193.5L652.6,193.6L654.4,193.1L655.2,192.8L655.9,191.7L657.1,190.8L656.7,189.7L653.3,189.0L652.8,189.7L651.2,189.5L650.6,189.8L649.5,190.5L649.8,191.7L648.4,191.4L645.4,191.6ZM648.9,187.6L648.2,186.7L649.8,186.5L652.1,185.5L653.0,185.8L655.6,186.1L656.6,186.6L658.6,187.2L660.0,188.1L658.9,188.5L657.2,189.3L656.7,189.7L653.3,189.0L652.8,189.7ZM655.2,192.8L655.9,191.7L657.1,190.8L658.2,191.2L660.0,191.2L662.1,190.4L662.9,189.9L665.8,190.1L667.1,190.8L665.5,191.9L664.1,193.6L662.5,194.1L660.3,194.4L660.1,194.5L657.9,194.5L656.1,193.6L655.8,193.4ZM651.2,195.1L650.9,194.4L651.0,193.5L652.6,193.6L654.4,193.1L655.2,192.8L655.8,193.4L654.5,194.0L653.8,195.2L652.6,195.0L650.9,195.3ZM660.1,194.5L660.3,194.4L662.5,194.1L664.5,196.4L666.4,196.7L666.8,197.6L666.2,198.3L667.3,199.3L666.2,200.9L664.7,201.0L663.1,201.7L662.1,200.5L662.6,199.7L660.7,198.8L661.0,197.4L660.3,196.4L660.5,196.1ZM666.8,197.6L666.2,198.3L667.3,199.3L666.2,200.9L667.2,202.6L669.0,202.4L671.3,202.8L673.1,202.0L676.0,201.5L675.9,200.2L677.1,198.4L674.3,197.6L671.7,198.5ZM667.1,190.8L665.5,191.9L664.1,193.6L662.5,194.1L664.5,196.4L666.4,196.7L666.8,197.6L671.7,198.5L674.3,197.6L677.1,198.4L678.9,195.8L676.4,195.3L676.2,192.8L673.6,190.4L669.9,190.9ZM683.5,213.8L684.8,213.2L687.6,212.6L686.5,213.9L684.8,214.6ZM622.4,184.5L621.7,182.2L621.7,181.5L619.4,181.4L618.9,182.4L619.9,182.9L617.8,184.0L618.2,184.4L621.5,184.8ZM616.3,180.3L617.5,179.4L616.3,178.2L614.3,178.5L613.1,179.4L614.3,180.1ZM699.7,278.2L698.7,276.7L698.7,270.5L700.3,268.5L698.4,268.1L696.1,269.4L693.7,269.1L691.6,267.7L689.8,267.4L686.5,268.1L687.2,269.3L688.3,272.1L687.4,273.4L686.3,275.2L686.5,277.1L692.8,280.5L693.0,281.4L695.6,283.4L696.4,282.4L697.2,280.9L697.3,280.2ZM642.0,267.2L643.4,264.6L645.6,263.2L647.7,263.2L648.6,260.6L651.2,256.2L652.6,255.3L651.9,253.7L651.7,252.5L650.9,251.5L648.9,252.5L644.6,252.3L642.8,253.0L640.7,252.2L639.0,252.5L636.7,251.1L634.3,251.8L633.4,255.0L633.4,257.4L632.0,259.7L631.8,264.3L633.0,264.1L634.8,264.3L635.8,265.3L637.8,267.9L639.3,267.7ZM711.9,222.8L711.0,221.9L710.5,221.0L709.9,218.5L707.7,217.4L706.4,215.7L707.3,213.9L707.8,212.5L706.3,212.1L705.4,210.0L701.2,210.2L699.1,211.4L698.7,215.0L694.9,216.8L695.6,218.9L697.7,219.3L700.7,220.8L705.2,224.2L708.4,224.3L710.5,222.6L710.9,222.7ZM716.6,232.3L715.9,232.0L715.9,230.7L716.6,229.5L717.3,230.2L717.3,231.8ZM688.4,217.3L689.7,216.9L691.1,215.3L690.0,214.5L689.1,215.8ZM768.6,222.4L767.6,223.1L767.1,224.9L768.6,225.8L772.7,227.4L775.6,228.8L781.1,229.0L781.1,226.5L777.4,226.3L773.9,224.7L770.4,222.2ZM782.8,237.6L782.3,233.3L781.2,230.2L782.3,229.1L784.0,229.8L784.1,231.1L788.6,231.6L787.9,233.3L786.5,234.0L787.2,235.1L788.4,234.6L788.4,236.9L788.9,236.9L788.9,238.1L788.4,239.2L787.5,236.3L786.6,236.2L785.4,235.8L784.9,237.0ZM838.5,231.6L839.4,231.1L840.3,231.6L839.4,233.3L838.4,236.9L837.0,235.1L837.8,232.6ZM799.3,257.9L800.5,256.2L801.2,254.8L800.3,252.3L798.7,249.2L799.4,247.4L799.9,246.7L797.8,244.4L798.0,242.9L797.3,243.0L798.4,240.9L800.1,240.7L802.0,239.8L802.7,241.3L804.1,241.3L803.6,244.8L805.5,244.1L806.4,244.0L808.7,243.4L810.1,245.0L810.1,246.5L811.6,247.9L810.9,250.3L807.1,250.5L806.0,251.6L806.9,255.0L805.9,254.1L803.4,253.4L803.6,252.2L802.7,251.8L801.9,252.0L801.9,253.0L801.5,254.8L800.5,257.1L800.6,259.2L801.9,260.6L802.9,262.8L804.1,263.3L805.5,264.5L803.8,265.4L802.0,264.1L801.3,263.5L800.1,262.3L798.9,261.8L798.9,259.7ZM805.6,236.2L808.8,235.8L811.3,234.6L813.4,235.3L813.6,236.9L815.8,237.7L813.6,239.0L812.2,241.1L812.0,242.7L813.2,244.8L815.1,246.5L816.4,247.3L817.6,249.5L818.1,252.7L817.9,254.6L815.8,256.5L814.3,257.3L813.4,258.6L811.1,260.2L810.2,260.4L810.4,258.1L809.6,257.2L812.0,256.2L812.3,255.0L815.0,253.9L815.0,249.7L815.1,249.2L813.4,245.8L810.9,243.2L808.7,241.6L810.4,241.1L808.8,239.7L807.1,238.6ZM793.6,265.7L797.5,266.3L799.6,268.8L802.5,271.5L803.6,271.5L807.1,274.1L808.5,275.4L808.1,277.1L809.7,278.5L812.3,280.5L812.2,283.1L812.0,285.5L809.9,285.4L809.4,284.0L805.8,281.9L804.4,279.3L802.5,277.0L800.1,273.6L799.8,272.4L797.0,269.8L795.0,268.1ZM810.9,287.1L812.3,285.6L813.7,285.9L816.8,286.9L820.0,287.4L821.1,286.4L824.0,287.8L827.2,288.7L827.0,290.4L824.6,289.7L820.2,289.4L816.7,288.7L813.0,288.2ZM832.6,268.1L829.5,267.9L828.1,270.1L828.1,271.2L827.4,272.7L824.6,272.7L823.0,272.9L821.1,273.6L819.3,273.6L818.7,271.8L817.4,273.3L817.9,275.4L817.8,275.9L819.3,278.0L819.7,280.4L822.3,281.2L824.6,280.9L827.2,281.2L827.4,282.5L829.8,281.6L830.2,280.5L831.2,277.5L832.4,276.7L833.0,274.0L835.0,273.5L833.1,271.9L833.0,269.3ZM836.8,273.1L838.5,273.1L842.0,273.7L845.3,272.7L845.9,272.7L844.3,274.7L842.0,274.5L838.5,274.6L837.1,274.5L836.8,276.9L838.5,276.9L842.6,276.4L842.7,277.1L839.8,278.6L840.6,281.1L842.4,282.8L841.3,284.7L839.6,283.5L838.5,280.0L837.5,280.5L837.5,284.9L835.9,285.0L835.8,284.3L835.9,281.4L834.7,280.0L835.6,277.6L836.5,275.4L836.5,274.0ZM873.5,279.9L870.0,278.8L867.4,278.0L863.9,281.1L862.1,279.7L861.4,276.8L858.6,276.0L856.5,276.9L856.0,278.0L857.8,279.2L860.4,279.3L858.6,280.2L857.8,280.4L859.0,282.3L860.9,281.9L863.0,283.0L866.5,283.8L868.3,285.0L868.3,288.3L867.7,289.9L869.8,289.9L871.8,289.4L873.5,291.1ZM826.5,267.4L828.6,266.7L828.2,267.7L827.4,268.2Z"/>
<path fill="#98d19a" stroke-width="1.4" d="M837.8,243.0L840.6,243.0L840.8,245.7L839.6,247.6L839.6,250.2L841.2,250.6L843.6,251.3L844.0,253.5L842.6,252.7L841.3,252.3L839.8,251.1L838.0,251.3L837.8,250.1L837.0,249.5L836.6,246.9L837.3,247.2L837.5,244.8ZM840.4,263.3L842.0,260.6L844.3,260.4L846.4,258.3L847.8,259.9L848.3,262.6L847.6,264.4L846.2,265.6L846.8,263.3L843.8,264.4L843.8,262.1L842.7,262.5ZM844.3,253.6L846.1,253.6L846.8,256.0L845.5,255.8L845.4,254.8ZM844.5,255.5L845.5,256.5L845.9,257.8L845.2,257.8ZM841.9,256.4L842.9,256.4L842.4,259.5L841.2,258.6ZM840.3,254.8L842.2,255.3L841.9,257.1L840.3,257.1ZM842.6,257.2L843.8,255.8L843.1,258.1ZM831.9,260.7L834.5,257.7L835.9,255.5L835.6,257.2L833.0,260.4ZM837.3,251.8L839.4,252.3L839.4,253.9L838.2,253.7ZM842.9,253.6L843.8,254.4L842.4,254.4Z"/>
<path fill="#98d19a" stroke-width="1.5" d="M505.6,305.5L504.1,307.0L504.5,310.1L504.1,315.8L503.7,319.0L503.4,321.9L502.2,325.1L502.5,326.7L501.8,327.4L502.2,330.2L502.0,331.9L501.3,334.5L500.2,336.2L499.4,338.4L498.4,339.7L499.2,342.8L498.1,345.5L499.5,346.9L499.9,348.9L498.7,351.4L496.9,354.0L495.2,355.2L497.3,357.4L495.3,359.9L496.0,362.5L497.8,365.1L498.7,366.3L502.7,367.4L503.4,365.6L505.6,365.1L507.6,364.8L504.8,364.2L501.5,364.2L500.8,362.0L499.2,360.9L499.4,359.6L500.9,357.9L500.8,356.2L501.8,355.0L502.0,352.3L501.6,350.6L501.8,348.9L501.3,347.2L501.6,345.2L501.8,343.1L503.2,341.4L502.9,339.6L504.1,337.4L503.9,335.7L505.0,334.0L505.1,332.3L504.8,331.3L504.3,328.5L504.9,327.2L505.1,325.1L505.8,324.0L507.4,321.9L507.6,318.8L507.4,317.5L509.7,314.6L509.7,314.6L508.4,314.7L507.9,312.0L507.0,310.5L507.5,308.8L506.6,307.9L505.6,305.5ZM507.2,365.3L504.3,365.5L504.1,366.0L504.4,367.7L502.2,368.2L501.3,368.7L504.8,369.6L507.2,369.3ZM497.8,346.9L498.7,347.7L498.5,349.6L497.1,349.2ZM504.8,369.8L508.3,369.8L510.0,370.6L506.5,370.6ZM495.5,358.4L496.7,358.7L496.0,360.8L495.0,360.4ZM496.7,350.9L498.1,351.3L497.4,352.8L496.2,352.3ZM827.2,289.4L829.3,289.9L828.4,290.6ZM829.6,289.7L831.0,290.0L830.0,290.7ZM831.2,289.9L835.1,289.9L834.7,290.6L831.6,290.9ZM836.6,289.9L839.5,289.3L842.0,289.6L841.7,290.4L839.8,290.9L836.8,290.6ZM842.9,293.2L844.7,291.3L845.5,291.3L845.7,291.8L844.3,293.0ZM835.1,291.6L838.2,292.6L836.8,293.2L835.1,292.2ZM849.9,271.7L850.8,273.1L851.8,272.9L851.1,274.5L852.2,274.8L850.8,276.7L850.3,274.5ZM850.8,280.4L852.8,280.2L855.7,280.9L855.1,281.8L851.1,281.2ZM847.3,280.9L849.4,281.1L848.7,281.9L847.5,281.6ZM810.9,278.3L813.4,278.1L813.6,280.5L812.3,280.0ZM815.1,279.9L816.4,280.0L815.8,280.9ZM796.8,272.9L798.2,274.3L797.5,273.6ZM799.4,277.1L800.6,278.5L799.8,278.1ZM856.0,288.2L857.4,287.8L856.9,289.2ZM861.6,285.4L862.7,285.2L862.3,286.9ZM855.7,275.5L856.5,275.7L855.8,276.0ZM863.9,276.6L865.3,277.1L864.4,277.4ZM848.7,289.4L848.2,288.5L849.4,288.5ZM853.4,288.8L854.3,288.7L853.9,289.4ZM841.7,294.0L842.7,293.5L842.4,294.2ZM844.7,289.7L845.7,289.5L845.2,290.0Z"/>
<path fill="#5aab5c" d="M536.8,268.1L537.8,268.6L539.2,272.2L539.7,274.0L539.7,275.4L542.3,275.7L543.2,276.6L546.4,277.1L549.7,279.7L553.7,280.2L557.2,280.3L559.8,281.8L562.4,283.8L565.4,284.4L566.2,287.6L565.9,290.7L563.5,293.5L561.9,295.0L559.8,297.8L558.9,300.9L558.9,304.7L557.7,307.4L556.7,310.3L555.5,313.0L553.7,314.8L551.6,314.8L549.0,315.4L546.2,316.5L543.4,318.3L542.2,320.0L542.3,322.8L541.8,324.5L539.7,326.5L538.0,328.5L536.1,330.6L533.8,333.2L534.1,331.4L531.7,329.4L529.9,328.3L527.8,327.0L526.4,327.2L526.4,327.2L529.6,324.0L531.3,322.6L533.1,322.0L533.1,320.5L531.7,319.4L531.7,319.4L532.2,316.8L530.3,316.5L529.6,313.7L525.9,313.4L526.0,311.3L525.5,310.0L525.5,310.0L526.3,308.1L526.6,306.7L525.0,305.2L525.0,303.5L521.9,303.4L521.4,301.4L521.4,299.2L518.8,298.0L516.7,297.2L514.6,296.8L513.0,295.6L512.9,292.3L510.7,292.5L507.2,294.5L505.6,294.3L505.6,294.3L503.7,294.4L503.7,291.8L500.9,292.6L499.7,291.6L499.2,291.6L499.6,290.9L497.8,288.2L498.3,287.3L499.4,285.7L499.7,284.4L501.5,283.1L503.4,282.6L504.9,282.6L504.9,282.6L505.8,277.3L504.7,275.7L504.7,274.4L505.6,274.3L506.2,273.6L505.0,273.5L505.0,272.4L509.8,273.3L510.3,273.3L510.3,273.3L511.2,274.0L513.0,273.8L515.3,272.1L516.3,271.5L514.6,271.0L514.9,268.2L517.4,268.9L519.6,267.7L521.0,266.3L521.0,266.3L522.2,266.5L522.1,267.5L522.9,268.4L522.3,270.7L522.9,272.2L524.2,273.1L525.7,272.7L528.4,272.1L528.4,272.1L529.4,271.9L531.7,271.4L531.7,271.4L535.2,271.0L536.2,268.9L536.8,268.1ZM611.6,201.6L612.9,201.7L615.6,201.6L616.3,202.2L615.0,203.2L615.1,204.7L614.0,205.6L614.9,206.8L614.3,207.9L614.9,208.2L614.0,209.5L614.2,210.0L611.4,210.3L611.7,209.5L611.4,207.8L610.5,207.1L611.5,204.7L611.9,203.4ZM637.2,188.0L635.5,187.0L634.4,187.2L632.7,185.9L631.6,185.3L633.0,184.9L634.6,184.9L635.8,184.7L637.3,185.3L637.1,185.9L637.6,185.9L638.1,186.7L637.8,187.0L637.1,187.6L637.2,188.0ZM633.0,184.9L634.1,183.8L635.4,182.1L636.5,181.7L637.9,181.3L639.7,181.5L639.4,183.1L638.8,184.0L637.6,184.3L637.9,184.8L637.6,185.9L637.1,185.9L637.3,185.3L635.8,184.7L634.6,184.9L633.0,184.9ZM640.4,191.5L639.2,191.9L637.8,193.4L637.6,194.0L639.0,193.6L639.3,194.5L640.9,194.4L641.9,193.6L642.8,194.6L643.4,193.6L644.7,193.9L645.4,192.8L643.8,192.4L643.9,191.6L642.1,191.3ZM651.9,180.5L655.4,179.8L659.1,178.9L659.8,179.6L661.4,179.5L666.9,179.7L668.2,180.4L668.9,182.6L667.6,183.3L668.4,184.6L669.2,186.4L666.7,188.0L666.5,188.9L663.8,188.3L662.1,188.7L661.2,188.0L660.0,188.1L658.6,187.2L656.6,186.6L655.6,186.1L653.0,185.8L653.3,185.3L652.8,184.5L652.7,183.1L651.7,182.3L652.3,181.7ZM663.0,154.2L662.1,155.3L658.7,155.2L655.9,156.9L654.2,159.0L652.4,160.7L651.0,162.1L648.4,163.7L648.4,167.0L649.5,167.6L648.6,169.0L647.7,170.2L646.5,171.6L646.8,172.7L647.9,173.9L649.3,176.5L649.8,177.6L652.1,177.7L652.1,176.8L654.7,176.7L655.9,175.1L656.5,172.5L658.6,171.6L660.1,170.1L657.3,168.7L657.3,166.4L659.4,164.7L662.9,163.3L664.7,161.2L665.9,160.2L669.3,159.8L668.5,158.6L668.9,156.9L668.2,156.0ZM658.9,173.5L660.3,173.5L659.6,174.8L658.7,175.1ZM655.8,176.5L657.0,174.6L656.6,175.8ZM669.3,159.8L671.3,161.2L669.9,162.6L666.4,164.3L664.1,165.6L664.7,168.2L664.5,168.9L667.3,170.2L670.8,169.6L673.0,168.5L675.7,168.9L678.7,167.3L682.1,164.9L679.5,163.3L679.7,160.0L677.8,157.9L679.5,156.5L676.9,155.7L677.7,154.2L675.9,152.5L672.5,153.1L672.0,154.3L669.0,154.6L663.8,154.2L663.0,154.2L668.2,156.0L668.9,156.9L668.5,158.6ZM609.8,184.5L613.1,184.1L615.9,183.4L616.6,182.0L616.3,180.3L614.3,180.1L613.1,179.4L614.3,178.5L614.3,178.1L612.6,178.4L612.2,179.4L609.6,179.8L609.8,181.4L611.4,181.9L610.3,182.7L608.9,183.6ZM671.0,219.8L670.3,222.4L670.8,224.2L670.8,236.9L691.6,236.9L689.3,233.5L688.1,231.6L686.3,227.7L685.8,226.8L684.2,224.5L684.0,222.8L685.8,225.8L687.0,226.7L687.2,226.3L688.1,223.6L687.0,220.4L685.6,220.8L683.5,220.5L682.7,220.1L681.3,219.9L679.4,220.6L677.8,221.2L674.8,220.4ZM655.8,324.5L657.7,324.6L660.3,325.0L662.1,324.1L662.1,317.9L663.3,321.5L666.8,320.0L669.0,319.4L672.4,317.9L674.3,316.0L678.5,313.6L681.8,313.9L682.9,317.3L683.0,319.9L683.2,321.5L684.6,321.5L683.2,324.8L681.3,326.6L679.5,328.9L675.9,331.9L671.8,333.6L668.2,333.6L665.7,333.9L662.1,335.0L659.4,334.2L659.3,333.5L658.6,331.8L659.1,330.2L657.3,327.7ZM672.6,203.7L673.6,202.6L673.1,202.0L676.0,201.5L677.8,202.8L681.6,203.1L685.3,201.5L688.3,201.3L690.9,202.7L694.4,203.3L697.9,203.2L699.7,202.4L701.9,202.3L703.0,203.1L703.5,204.8L705.4,205.5L704.0,206.1L704.9,207.9L705.4,210.0L701.2,210.2L697.0,210.7L693.5,210.7L691.2,210.7L691.1,211.8L690.4,212.3L689.8,212.2L690.4,210.9L687.6,210.7L684.4,212.0L680.6,210.6L678.7,211.8L676.4,210.7L674.8,210.3L674.1,207.9L672.9,206.3L672.9,205.0L675.2,204.3L677.8,204.0L677.6,203.2L675.2,203.3L673.8,204.3ZM705.4,210.0L704.9,207.9L704.0,206.1L705.4,205.5L705.7,206.1L708.4,207.0L711.0,205.5L711.6,206.1L712.6,207.8L714.3,209.5L716.2,210.8L721.3,210.5L721.3,209.7L724.1,208.6L727.1,208.2L730.7,209.5L734.0,211.0L734.0,212.7L733.7,214.8L733.0,217.4L733.3,220.1L735.1,221.0L733.5,223.0L735.1,225.2L736.8,225.9L736.8,227.5L737.7,227.9L737.5,228.8L735.1,229.5L734.7,231.2L731.1,230.9L727.2,230.2L726.4,227.9L722.9,228.9L720.4,228.2L717.1,226.5L715.9,224.7L714.5,222.4L712.6,222.0L711.9,222.8L711.0,221.9L710.5,221.0L709.9,218.5L707.7,217.4L706.4,215.7L707.3,213.9L707.8,212.5L706.3,212.1ZM688.2,223.9L690.0,224.2L691.2,223.0L692.6,222.7L693.5,221.9L691.8,220.1L695.6,218.9L697.7,219.3L700.7,220.8L705.2,224.2L708.4,224.3L710.1,225.3L711.7,225.3L712.6,227.0L714.6,228.6L714.8,230.5L715.9,232.0L716.6,232.3L717.3,233.0L719.0,235.2L723.6,235.6L724.3,236.9L723.2,240.4L718.0,242.2L712.7,242.9L710.1,245.5L708.2,245.2L704.0,245.0L702.8,244.8L702.6,246.2L701.9,246.7L701.4,244.8L699.1,242.2L696.3,239.5L695.5,237.8L694.4,234.2L692.1,231.6L690.0,228.6L688.6,226.3L687.6,226.1ZM717.3,233.0L719.0,235.2L723.6,235.6L724.3,236.9L725.0,233.3L725.6,231.7L725.5,229.5L725.1,229.7L723.7,231.1L722.2,232.5L719.7,233.1ZM688.2,223.5L689.1,220.1L689.2,218.5L689.6,217.9L689.7,216.9L688.4,217.3L688.1,218.7L687.4,220.1L687.0,220.4L688.1,223.6ZM680.9,152.9L684.8,153.6L688.0,153.2L690.0,154.1L693.9,154.8L697.0,156.0L699.3,157.4L697.9,158.8L694.4,159.3L691.3,159.7L688.3,158.4L683.9,157.6L687.4,160.2L687.9,162.1L691.8,163.1L693.5,162.3L697.9,161.9L697.0,159.8L700.5,158.6L703.1,159.1L704.5,158.6L703.8,157.4L702.9,155.3L702.8,154.9L707.5,156.0L708.4,157.9L711.9,156.5L714.6,155.6L716.7,155.9L719.7,154.8L722.3,155.5L725.0,154.5L728.5,154.5L732.8,152.9L736.0,153.9L739.8,153.9L743.3,155.2L745.9,155.7L744.2,153.4L743.8,151.2L746.8,149.4L747.7,147.5L749.4,147.0L753.8,147.7L754.3,150.8L753.8,154.3L755.5,156.0L753.8,158.4L757.3,156.9L756.4,154.3L758.2,149.9L759.0,148.6L763.4,148.6L767.8,149.1L771.3,150.8L772.1,151.7L770.4,148.6L767.8,146.5L770.5,145.3L774.2,146.3L777.4,145.1L779.1,143.9L781.3,143.1L784.7,143.7L787.9,142.5L790.2,142.8L793.4,141.4L795.3,142.5L798.4,141.8L801.0,141.6L803.1,140.1L806.5,140.8L809.4,139.2L814.1,140.8L816.6,141.8L820.3,140.3L822.8,141.3L825.4,143.0L822.8,144.5L819.3,145.3L821.5,146.5L824.6,146.1L827.6,146.1L830.5,147.6L833.0,146.3L835.9,147.3L838.7,146.3L842.9,147.0L845.1,147.1L848.2,146.0L852.5,147.7L851.7,149.4L853.8,150.5L856.9,150.8L859.5,149.9L862.3,150.7L864.4,149.6L867.4,149.9L871.8,148.0L873.0,147.5L877.0,148.0L880.6,147.8L882.7,149.4L886.7,149.1L889.2,149.9L893.6,151.0L896.9,151.0L899.5,152.4L901.6,151.4L904.6,153.4L907.6,153.2L911.1,153.1L913.9,152.3L916.5,153.7L918.9,153.2L921.7,153.4L925.0,154.3L925.0,152.4L928.3,153.0L932.1,152.3L934.7,153.1L938.6,153.3L941.7,154.4L941.7,161.1L939.0,161.9L937.3,161.7L939.9,164.3L940.4,165.9L934.7,166.6L929.4,168.5L924.7,170.1L921.8,170.2L917.2,169.4L913.7,170.1L911.9,172.5L911.1,173.9L912.3,176.5L910.0,179.3L906.7,181.7L904.4,182.2L900.9,185.7L899.7,182.9L899.0,179.4L899.4,175.5L901.5,173.7L904.1,171.7L906.4,170.8L910.0,169.2L912.8,167.0L913.7,165.6L911.1,167.1L907.4,166.6L905.0,167.0L900.9,167.3L898.0,170.9L894.3,170.5L890.6,170.7L886.6,170.9L881.9,170.9L877.3,171.0L874.5,171.9L872.6,173.7L868.6,176.1L866.4,178.1L863.5,179.1L867.4,180.3L869.1,180.7L873.5,181.5L873.0,181.8L874.0,183.4L872.6,187.2L872.3,189.9L869.1,193.1L866.9,195.6L864.8,197.0L863.0,199.0L859.9,200.2L857.6,199.5L855.5,200.9L855.3,200.8L856.4,198.8L856.5,196.3L857.8,195.8L859.7,196.0L860.4,194.0L861.3,192.6L862.7,190.2L858.6,191.2L855.8,191.3L855.5,189.2L852.5,188.3L850.1,187.6L849.9,186.8L848.2,183.8L846.4,182.0L842.9,181.1L838.4,181.5L837.0,182.7L836.8,184.6L835.2,187.2L833.0,188.1L831.0,187.5L827.2,186.8L821.1,188.4L815.8,188.1L813.2,186.7L806.2,186.6L805.7,185.0L800.1,183.8L798.4,186.2L793.1,187.2L787.9,185.9L782.6,188.0L780.5,188.7L779.7,188.7L776.5,188.0L772.1,185.5L766.9,185.9L761.7,181.5L755.5,180.3L751.5,180.0L747.7,178.1L741.6,179.3L734.6,180.5L733.7,182.2L732.0,185.5L728.5,185.3L723.2,186.2L718.5,184.3L715.9,184.3L711.9,187.2L708.9,190.1L711.9,193.3L713.1,193.8L710.1,195.1L708.7,197.0L710.1,199.7L711.9,201.7L709.8,202.8L708.2,201.7L705.7,200.2L703.1,200.0L700.5,199.3L696.9,199.0L693.5,197.2L693.2,196.7L691.1,195.6L692.6,195.4L693.5,194.4L695.6,192.6L695.1,192.2L693.9,192.4L696.5,190.8L697.2,188.0L695.1,187.4L692.6,186.6L689.3,186.6L689.1,185.5L686.2,183.2L682.7,183.6L684.2,181.3L681.3,179.1L681.1,177.5L679.5,177.1L676.4,176.6L675.7,174.6L674.9,174.2L675.2,173.7L675.0,172.0L676.0,170.9L677.8,170.0L679.9,170.0L677.3,169.2L675.7,168.9L678.7,167.3L682.1,164.9L679.5,163.3L679.7,160.0L677.8,157.9L679.5,156.5L676.9,155.7L677.7,154.2L677.8,154.1ZM661.4,179.5L666.9,179.7L666.6,178.5L664.3,178.1L662.1,178.7ZM733.5,223.0L736.3,223.8L738.9,223.8L743.0,222.9L743.1,221.2L746.3,219.6L748.2,219.2L749.3,217.3L749.4,215.8L751.3,215.5L752.0,213.9L751.5,211.9L752.9,211.2L757.3,210.3L758.0,209.9L759.0,210.7L759.9,212.1L763.1,213.0L761.7,213.7L759.6,214.2L756.2,214.6L756.4,217.1L758.7,218.7L757.3,219.2L757.5,220.8L756.2,222.0L753.4,224.9L750.1,226.3L749.4,228.8L751.2,232.3L747.3,232.8L746.3,233.9L745.1,233.5L744.2,231.9L743.3,230.9L738.9,231.1L734.7,231.2L735.1,229.5L737.5,228.8L737.7,227.9L736.8,227.5L736.8,225.9L735.1,225.2ZM746.3,233.9L747.3,232.8L751.2,232.3L749.4,228.8L750.1,226.3L753.4,224.9L756.2,222.0L757.5,220.8L757.3,219.2L758.7,218.7L756.4,217.1L756.2,214.6L759.6,214.2L761.7,213.7L763.1,213.0L763.4,213.0L765.2,215.1L766.0,218.0L764.1,218.3L764.8,220.4L765.5,221.0L768.6,222.4L767.6,223.1L767.1,224.9L768.6,225.8L772.7,227.4L775.6,228.8L781.1,229.0L781.1,226.5L782.3,226.1L782.5,227.5L782.4,228.1L784.4,228.5L788.0,228.3L787.3,226.6L787.9,226.6L791.4,224.7L793.1,224.2L795.4,224.0L797.1,225.9L796.6,227.9L793.5,228.8L792.4,231.2L790.1,233.3L790.0,236.5L788.9,236.9L788.4,236.9L788.4,234.6L787.2,235.1L786.5,234.0L787.9,233.3L788.6,231.6L784.1,231.1L784.0,229.8L782.3,229.1L781.2,230.2L782.3,233.3L782.8,237.6L780.9,237.6L779.1,237.8L778.3,240.0L775.6,241.6L772.7,244.4L770.9,246.2L769.0,247.6L767.1,249.2L767.4,252.5L766.6,254.6L766.6,257.4L765.7,259.2L763.8,259.9L762.6,261.3L760.4,258.1L759.6,255.7L757.8,252.9L756.1,248.3L755.2,245.7L754.3,242.2L754.3,238.6L753.8,236.9L753.1,238.3L751.2,239.2L747.6,236.4L748.6,235.5ZM847.5,209.1L848.5,209.0L849.0,208.0L851.4,207.5L853.2,210.3L853.4,212.1L852.7,213.7L850.8,214.2L848.2,215.0L847.8,213.9L848.2,212.1L847.8,210.7L848.7,210.3ZM847.6,216.5L848.9,216.5L848.3,217.1ZM802.0,264.1L803.8,265.4L805.5,264.5L807.3,266.1L807.8,268.7L808.0,270.7L809.3,273.0L808.0,273.0L805.7,271.5L804.1,270.1L803.1,268.4L802.5,266.0ZM818.7,271.8L819.3,273.6L821.1,273.6L823.0,272.9L824.6,272.7L827.4,272.7L828.1,271.2L828.1,270.1L829.5,267.9L832.6,268.1L833.7,267.9L835.4,266.1L833.5,265.2L832.8,264.4L831.1,263.2L829.8,264.9L828.9,266.1L826.3,267.4L824.6,269.8L821.1,271.2L821.4,272.7Z"/>
<path fill="#5aab5c" stroke-width="1.3" d="M874.2,202.5L875.2,205.7L873.5,208.0L873.3,210.5L873.2,212.6L871.5,214.1L871.2,213.0L869.7,214.6L868.6,214.6L866.5,214.6L866.3,215.2L864.4,216.6L863.2,215.1L863.4,214.6L861.3,214.6L858.6,215.1L855.9,215.7L856.0,215.0L859.0,213.0L861.6,212.9L863.5,212.6L864.9,212.6L866.0,210.9L867.0,209.5L866.9,210.7L869.1,209.6L870.0,208.7L871.6,206.4L871.2,205.2L871.8,204.0L872.4,202.8L873.3,203.4ZM871.4,201.1L872.4,199.1L874.2,199.3L875.1,195.2L877.0,197.0L881.1,197.3L881.9,199.1L879.4,199.8L877.4,201.6L874.5,200.4L873.5,200.9L872.3,201.1L873.0,201.9L871.9,202.5ZM858.5,216.7L859.2,215.7L861.3,215.0L862.5,215.3L862.5,216.0L861.6,217.0L860.4,216.5L859.5,218.0ZM855.8,215.8L857.2,216.4L857.8,217.4L856.7,220.3L855.4,221.0L854.6,220.3L854.6,218.5L853.9,218.0L853.6,216.7L855.0,216.3ZM850.3,229.6L851.3,228.4L850.8,228.9ZM928.9,334.3L931.7,335.8L932.6,338.4L933.6,337.9L934.5,338.2L935.0,339.8L938.2,339.7L939.1,339.9L938.0,342.3L936.2,343.0L936.2,344.5L933.4,346.5L932.6,346.0L933.1,344.2L930.7,342.6L932.2,341.8L932.4,339.4L931.5,337.7L929.4,335.3ZM928.9,344.7L931.7,345.5L931.5,346.9L930.6,347.9L929.1,349.9L929.6,350.3L926.4,351.3L925.4,353.7L923.3,355.0L921.4,355.0L918.2,354.3L918.9,352.3L921.2,350.6L922.4,350.4L925.0,348.9L926.3,347.9L926.8,346.7L927.8,345.3ZM920.0,355.3L921.0,355.5L920.5,356.2Z"/>
<path fill="#5aab5c" stroke-width="1.35" d="M645.4,171.3L642.8,172.5L641.1,173.2L639.3,173.4L636.7,172.0L636.2,170.8L635.8,168.2L636.2,166.4L639.3,164.9L642.0,163.8L644.6,163.0L647.2,161.2L648.9,159.5L650.7,157.4L652.4,155.7L655.9,155.0L658.6,153.4L662.9,152.4L667.3,151.5L669.9,151.4L672.2,150.6L676.0,150.8L678.8,150.9L681.3,151.9L680.9,152.9L677.8,154.1L677.7,154.2L675.9,152.5L672.5,153.1L672.0,154.3L669.0,154.6L663.8,154.2L663.0,154.2L662.1,155.3L658.7,155.2L655.9,156.9L654.2,159.0L652.4,160.7L651.0,162.1L648.4,163.7L648.4,167.0L649.5,167.6L648.6,169.0L647.7,170.2L646.5,171.6ZM652.4,155.0L654.7,153.9L655.4,154.6L653.3,155.5ZM649.8,155.8L652.1,155.5L651.2,156.2Z"/>
<path fill="#5aab5c" stroke-width="1.4" d="M642.1,178.7L644.4,178.9L644.1,177.7L644.9,177.2L646.1,176.1L645.1,175.8L645.6,173.8L642.1,174.9L641.3,175.8L641.3,177.6ZM646.3,177.4L649.1,176.7L649.1,177.7L648.2,178.7L646.5,178.2ZM644.2,177.7L646.0,177.7L645.8,178.5L644.6,178.4ZM673.1,202.0L671.3,202.8L669.0,202.4L667.2,202.6L663.8,203.5L663.3,204.5L662.1,205.5L663.3,207.0L663.8,207.7L664.3,208.2L664.0,208.7L665.0,210.7L666.4,211.4L667.6,211.3L667.6,209.8L667.3,208.7L669.0,209.2L667.3,207.0L667.8,206.4L666.6,205.0L667.1,204.0L669.0,205.0L668.9,204.4L669.7,203.3L672.6,203.7L673.6,202.6ZM668.2,213.0L673.1,213.4L672.9,213.9L670.3,214.1L668.2,213.4ZM667.6,207.0L669.9,208.2L669.4,208.6L668.0,207.5ZM672.7,206.3L673.6,206.6L672.9,206.9ZM675.7,211.4L676.4,211.4L675.7,212.3Z"/>
<path fill="#5aab5c" stroke-width="1.5" d="M618.4,172.3L621.9,172.2L620.1,174.1L623.6,173.9L624.0,174.4L622.7,176.3L621.3,176.8L623.6,177.2L621.8,178.6L618.5,179.2L618.2,178.6L618.9,177.7L617.3,178.1L617.1,176.0L616.3,174.6L617.0,173.5ZM613.8,175.1L616.3,172.5L615.0,172.8L614.2,174.1ZM621.2,171.5L622.6,171.1L622.2,172.0ZM624.3,168.9L625.5,168.7L624.8,170.1Z"/>
<path fill="#5aab5c" stroke-width="1.7" d="M717.1,149.4L720.6,151.2L723.7,151.8L727.6,151.5L725.0,148.2L728.5,145.6L731.3,143.8L734.6,143.4L737.6,143.5L739.5,142.0L742.5,142.6L744.4,141.1L747.7,141.1L745.9,140.4L743.5,140.3L740.8,141.4L737.9,140.6L735.4,141.6L732.1,141.5L730.2,143.2L727.2,142.7L725.0,143.9L721.5,146.5L718.0,148.7ZM793.1,135.4L795.7,134.4L800.1,134.2L803.7,135.0L805.4,134.2L808.8,135.4L811.5,137.1L808.2,136.7L805.0,137.7L801.9,137.5L798.8,137.4L795.7,136.6ZM867.4,143.4L871.8,142.3L874.6,143.4L878.7,143.0L882.0,142.8L884.0,143.4L882.2,144.0L878.0,143.3L875.2,144.0L872.2,143.3L870.0,144.2ZM871.8,145.8L874.2,146.5L877.0,146.3L876.1,147.0L872.6,146.7ZM876.5,179.6L877.5,182.9L877.3,185.5L880.0,189.6L876.6,192.0L878.0,193.1L877.7,194.2L875.4,194.5L875.2,190.8L875.6,187.2L874.7,183.8L875.2,181.2ZM312.6,161.1L314.6,159.7L315.2,158.9L317.8,160.2L320.4,161.6L324.8,162.4L326.0,162.1L329.2,160.2L330.5,159.3L327.4,157.8L324.8,158.0L321.3,156.9L316.9,155.3L312.6,154.4ZM730.2,152.6L732.8,152.7L731.1,153.8L729.3,153.2ZM711.9,153.8L714.8,153.9L713.6,154.8ZM911.9,171.8L914.6,171.3L913.7,172.3Z"/>
<path fill="#3b8a3d" d="M614.2,210.0L614.0,209.5L614.9,208.2L614.3,207.9L614.9,206.8L614.0,205.6L615.1,204.7L615.0,203.2L616.3,202.2L615.6,201.6L612.9,201.7L611.6,201.6L610.8,199.9L611.0,199.4L613.1,198.4L617.0,198.6L620.5,198.9L624.0,199.1L625.9,199.9L628.3,200.0L630.1,200.6L632.6,200.7L632.7,201.5L630.9,202.5L628.7,203.6L626.6,205.9L627.4,207.2L625.9,209.3L624.3,209.6L623.3,210.8L619.4,210.9L617.3,212.1L616.0,211.1ZM631.3,205.7L632.7,205.1L633.0,205.7L632.3,206.3ZM633.7,204.9L634.6,205.1L634.4,205.4ZM632.6,200.7L630.1,200.6L628.3,200.0L625.9,199.9L624.0,199.1L624.8,197.0L625.2,195.2L625.0,194.0L623.4,192.6L622.7,192.0L619.6,191.2L618.7,190.1L621.0,189.4L624.3,189.6L623.8,187.8L625.0,188.3L627.3,188.1L629.7,187.1L629.9,185.7L631.6,185.3L632.7,185.9L634.4,187.2L635.5,187.0L637.2,188.0L637.2,188.0L638.2,188.2L638.2,188.2L640.2,188.8L641.4,189.1L640.4,190.8L640.4,191.5L640.4,191.5L639.2,191.9L637.8,193.4L637.6,194.0L639.0,193.6L639.3,194.5L639.3,194.5L638.7,196.0L639.3,196.7L640.5,197.6L640.2,198.3L638.6,199.3L636.5,199.2L635.1,199.0L633.9,198.8L632.5,199.5ZM643.5,199.7L643.8,201.3L643.2,202.5L642.1,201.5L642.3,200.4ZM640.2,198.3L640.5,197.6L639.3,196.7L638.7,196.0L639.3,194.5L640.9,194.4L641.9,193.6L642.8,194.6L643.4,193.6L644.7,193.9L645.4,192.8L646.3,192.9L648.4,192.6L648.8,193.1L651.0,193.5L650.9,194.4L651.2,195.1L650.9,194.8L648.7,195.4L648.9,196.3L648.8,197.6L650.9,198.7L651.6,200.2L653.3,201.5L655.4,201.6L655.1,202.4L658.4,203.8L659.4,204.8L658.6,205.2L656.8,204.1L655.9,205.5L657.0,206.8L656.1,207.7L655.2,208.7L654.4,208.6L655.2,206.8L654.5,205.0L653.3,204.7L652.1,203.6L651.0,202.9L648.4,201.9L647.5,201.1L645.4,199.9L644.9,198.1L642.7,197.2ZM648.9,208.9L650.5,208.2L654.4,208.1L653.8,210.3L653.5,211.0L651.9,210.3ZM641.4,203.4L643.2,202.8L644.2,204.1L643.9,206.4L642.8,206.8L641.8,206.8L641.8,205.0ZM597.6,225.6L599.0,225.3L598.1,226.3ZM599.5,226.1L600.2,226.1L599.8,226.7ZM602.1,225.2L603.0,225.0L602.3,226.1Z"/>
<path fill="#266a28" d="M380.7,153.2L384.2,153.4L388.6,154.5L391.2,153.6L394.7,153.4L398.2,152.6L401.7,152.6L403.4,151.6L406.0,153.2L408.7,153.6L409.7,152.4L412.0,153.5L414.8,152.9L417.1,152.4L419.3,154.9L421.8,154.3L426.1,154.5L428.2,155.5L425.8,156.3L429.1,155.0L432.3,156.8L434.9,156.1L438.4,157.1L438.0,155.0L440.1,156.0L442.7,155.1L444.9,154.3L446.8,156.8L449.7,156.5L452.0,157.1L455.0,156.4L455.8,154.8L459.3,155.6L460.2,153.4L458.8,150.5L462.0,149.1L465.5,150.8L466.3,153.2L469.8,155.2L473.3,157.1L474.5,155.7L477.7,153.2L481.2,153.5L483.8,152.9L485.0,155.2L483.1,158.3L479.4,159.0L476.8,159.0L474.7,160.7L473.7,162.3L469.8,163.1L467.0,164.1L465.5,165.4L462.8,168.2L461.6,170.8L462.5,172.1L464.9,175.1L469.0,174.8L473.3,176.1L477.7,177.9L480.5,178.6L483.3,178.4L483.5,182.0L485.6,184.0L487.6,185.2L489.4,183.3L489.0,180.3L488.2,179.1L492.0,176.8L493.2,174.2L489.9,172.0L491.7,169.9L490.6,165.9L495.2,165.9L498.7,166.4L501.6,167.3L504.8,168.2L505.6,169.9L505.5,172.0L508.3,172.8L511.8,171.8L513.5,169.4L514.4,169.2L517.0,171.6L519.1,174.6L521.4,177.2L524.9,178.9L527.1,180.3L529.6,182.7L529.2,183.8L527.5,184.7L524.3,185.5L522.2,186.8L519.2,187.6L517.0,186.7L514.2,186.2L511.1,186.9L509.1,188.5L506.5,189.9L505.3,190.5L503.9,191.8L502.7,192.8L503.8,192.7L505.6,191.2L507.4,190.1L509.1,189.3L513.5,188.7L514.7,189.4L512.6,190.6L511.2,190.8L513.5,191.3L513.9,192.6L514.4,193.8L515.6,194.4L519.6,194.9L521.6,192.6L522.6,194.4L520.5,195.6L517.0,196.7L514.4,197.9L512.5,198.8L511.4,197.4L513.5,195.8L514.4,195.2L511.8,195.8L509.8,196.3L509.2,195.6L508.6,194.9L508.6,192.4L507.7,192.0L506.2,191.8L504.8,193.1L504.3,194.5L503.2,195.6L502.2,196.1L496.6,196.1L495.5,196.5L493.6,197.7L492.9,198.6L488.9,199.0L489.0,200.0L483.1,202.0L481.9,201.3L482.9,200.4L483.6,198.6L482.9,195.6L481.0,194.2L479.3,193.5L478.7,192.8L472.6,190.3L470.5,190.8L467.2,190.6L464.6,189.7L461.6,189.4L460.7,188.3L460.7,189.0L412.5,189.0L411.8,188.5L409.5,187.2L406.9,186.0L404.3,185.5L403.8,183.3L402.0,181.2L399.4,179.8L399.8,178.6L399.8,177.0L396.8,175.8L394.0,172.7L391.2,171.1L388.6,170.8L386.8,171.8L384.2,169.9L380.7,169.4L380.7,153.2ZM639.7,181.5L641.1,180.8L642.0,181.0L642.7,180.3L642.1,178.7L644.4,178.9L644.6,179.4L646.3,180.3L648.1,180.0L650.5,179.3L651.9,180.5L652.3,181.7L651.7,182.3L652.7,183.1L652.8,184.5L653.3,185.3L653.0,185.8L652.1,185.5L649.8,186.5L648.2,186.7L648.9,187.6L651.2,189.5L650.6,189.8L649.5,190.5L649.8,191.7L648.4,191.4L645.4,191.6L643.9,191.6L642.1,191.3L640.4,191.5L640.4,190.8L641.4,189.1L640.2,188.8L638.2,188.2L638.5,187.6L637.8,187.0L638.1,186.7L637.6,185.9L637.9,184.8L637.6,184.3L638.8,184.0L639.4,183.1ZM621.8,178.6L620.8,179.4L621.9,180.5L621.7,181.5L621.7,182.2L622.4,184.5L621.9,185.2L619.8,185.2L617.1,187.2L620.8,186.9L621.9,186.1L624.8,186.0L627.6,185.9L629.5,185.3L628.7,184.8L629.9,183.8L630.2,182.7L627.8,182.1L627.3,181.0L626.9,180.1L625.2,179.4L624.5,178.6L623.6,177.2ZM825.8,314.2L826.6,312.9L831.0,310.8L834.4,310.3L838.5,309.1L840.6,306.4L841.9,303.6L843.1,305.2L844.7,302.9L847.3,299.5L849.0,299.3L851.1,301.2L853.4,301.1L853.8,298.7L855.7,296.8L858.8,296.2L858.8,294.9L863.0,296.4L866.3,296.4L864.8,298.7L863.9,301.1L866.5,302.8L870.0,304.5L873.2,305.5L874.5,301.2L875.1,297.2L876.1,293.8L877.9,297.5L878.4,300.2L880.9,302.0L881.9,304.5L882.8,307.7L885.2,308.8L887.8,311.8L890.6,314.9L892.7,317.5L894.8,319.7L895.4,323.7L894.5,327.7L893.6,330.6L891.5,333.3L889.6,337.0L889.1,339.6L885.4,340.4L882.9,342.3L880.3,340.4L877.9,341.8L873.5,340.6L871.4,338.7L870.9,336.7L869.1,336.4L869.0,334.5L867.9,331.1L866.5,333.1L867.9,335.5L866.3,335.7L864.8,334.8L863.4,332.8L861.6,331.6L860.7,330.4L856.4,329.4L852.5,329.7L847.3,330.8L843.8,331.9L842.9,333.5L840.1,333.4L836.8,333.6L833.1,335.3L829.8,335.2L828.2,334.2L828.1,333.0L829.3,330.2L828.1,327.7L827.4,324.8L825.8,321.1L825.3,320.2L825.3,317.3ZM880.0,345.0L883.1,345.7L886.3,345.3L886.3,347.5L885.6,349.2L883.6,349.9L882.2,349.7L881.0,348.2L880.0,345.9ZM865.8,336.4L867.6,336.4L868.4,336.9L866.2,337.0ZM854.6,295.0L856.9,295.0L856.0,295.9L854.8,295.7ZM865.5,299.2L866.3,299.2L866.0,300.0ZM894.5,318.3L895.0,317.8L894.8,319.4ZM878.6,343.1L878.9,343.3L878.7,344.0ZM885.7,343.5L886.3,343.8L885.9,344.5Z"/>
<path fill="#266a28" stroke-width="2.0" d="M411.5,190.1L408.7,189.4L406.0,188.0L403.1,186.2L404.3,185.7L407.8,186.7L410.4,188.5ZM394.7,180.1L397.0,180.3L397.8,183.4L395.9,182.0ZM523.5,191.5L525.2,189.9L526.8,186.0L529.9,184.5L529.2,186.9L531.0,188.3L533.6,188.5L535.0,191.5L533.4,193.2L531.0,192.8L529.2,191.5L525.8,191.2ZM514.6,187.4L518.8,188.8L519.3,188.3L516.1,187.4ZM514.9,192.8L518.8,193.6L517.9,194.4L515.6,193.7ZM513.5,166.4L510.9,166.6L507.4,165.6L504.5,165.7L502.2,163.8L499.7,162.3L496.9,162.3L494.5,161.5L491.7,162.4L490.8,161.6L492.5,160.5L494.7,159.6L497.8,160.4L498.7,158.6L500.4,156.9L496.0,155.5L494.7,153.9L491.7,153.4L489.0,152.6L486.5,152.0L483.8,152.6L479.4,152.6L476.8,151.7L473.3,150.8L469.8,148.2L470.7,146.5L472.7,147.1L475.4,145.1L477.7,146.0L479.8,146.9L482.5,145.4L485.6,146.1L487.3,148.2L491.7,147.7L496.0,148.6L497.7,150.1L500.9,149.3L503.0,150.5L505.0,151.6L508.3,152.0L510.0,153.9L513.0,156.0L515.3,156.5L518.1,156.5L519.6,158.1L516.1,160.7L513.5,159.8L509.1,159.1L511.5,159.8L513.5,161.9L516.0,161.7L513.5,163.8L510.6,164.2L507.4,163.5L510.0,164.7L512.6,165.4ZM419.1,149.9L422.6,147.7L424.7,146.8L427.9,146.8L430.7,145.9L432.9,148.3L434.9,147.3L437.9,146.2L441.2,147.5L443.6,146.8L446.3,147.3L449.7,149.1L449.7,152.6L447.1,154.3L444.5,155.7L441.9,154.6L439.7,155.9L437.3,153.7L434.9,155.0L431.6,155.7L428.8,155.0L426.3,155.3L423.5,153.6L421.8,151.7ZM407.8,149.1L410.4,146.1L412.8,146.7L415.7,144.7L418.2,144.5L421.8,145.3L425.3,146.8L422.5,147.0L420.9,149.4L418.3,149.4L415.4,148.7L412.2,150.6L409.8,148.7ZM471.6,141.3L474.4,142.0L476.4,140.5L479.9,142.7L482.2,140.9L484.1,142.7L487.3,141.8L490.8,139.5L492.6,137.9L496.0,137.8L499.5,136.1L502.5,134.3L504.8,135.5L507.7,133.3L510.0,133.8L513.4,133.5L515.4,131.4L518.8,131.7L517.0,130.3L514.4,130.9L512.6,129.5L510.1,130.6L507.6,129.3L504.8,129.8L501.9,130.8L500.1,129.0L498.1,130.5L496.0,129.1L492.7,130.5L490.8,130.0L488.2,129.4L486.4,131.3L483.6,129.9L481.2,131.6L478.6,131.2L475.5,132.3L472.6,131.5L469.8,132.6L473.4,132.7L475.1,134.3L478.6,136.1L476.2,136.4L473.3,138.3ZM459.3,135.2L461.6,135.7L463.8,133.8L467.1,135.0L469.0,133.5L472.2,133.9L474.2,135.5L470.6,136.3L468.1,138.1L465.9,138.4L463.5,136.6L461.1,136.9ZM458.5,140.9L460.4,142.2L463.7,139.8L466.3,141.1L468.9,142.8L471.6,142.8L474.3,142.3L476.4,143.3L479.3,142.0L482.6,143.3L485.0,141.4L487.3,142.7L487.3,144.4L483.8,145.4L481.1,144.1L478.6,144.7L476.7,145.4L474.0,143.5L471.8,145.5L468.7,143.3L466.3,144.6L464.3,143.2L460.8,144.4L458.5,143.0ZM460.2,145.6L463.4,146.3L465.4,144.7L469.0,145.6L469.8,147.7L465.5,149.1L463.1,147.9L460.2,148.7ZM448.9,146.1L451.6,146.5L453.6,144.7L455.8,145.8L458.5,147.9L456.7,149.9L453.7,148.6L450.6,148.6ZM422.6,143.0L425.1,141.3L427.8,142.4L429.6,141.4L432.6,142.7L435.3,140.4L438.4,141.3L442.7,142.5L441.0,144.0L438.5,143.6L436.0,145.1L434.1,143.8L431.4,144.9L428.4,145.4L426.1,144.0ZM445.4,141.1L447.7,139.9L451.0,142.1L453.2,140.4L455.8,141.1L456.7,143.4L454.1,142.4L451.6,144.2L448.9,143.9ZM412.2,141.6L414.2,142.2L416.0,139.3L419.1,139.9L421.7,139.2L424.4,141.1L421.3,142.4L418.3,142.7L414.4,143.0ZM444.5,138.1L447.4,137.0L449.6,138.8L451.6,136.8L454.1,137.3L457.6,138.8L454.9,138.3L453.2,140.3L450.6,139.7L448.3,138.1ZM475.1,159.8L478.6,159.5L481.0,159.9L483.8,161.6L486.4,163.7L483.5,163.5L482.1,165.2L477.7,164.3L475.1,163.0ZM454.1,152.9L457.1,152.0L459.3,152.9L460.2,154.6L455.8,155.0ZM487.3,146.3L490.0,145.5L493.4,146.3L494.3,147.5L490.6,148.6L488.2,147.7ZM486.8,165.4L488.2,165.7L488.3,167.1L487.0,166.8ZM481.2,164.9L484.0,164.9L482.9,165.9ZM487.3,176.1L489.0,175.8L488.7,177.0Z"/>
<path fill="#1a521b" d="M412.5,189.0L460.7,189.0L460.7,188.3L461.6,189.4L464.6,189.7L467.2,190.6L470.5,190.8L472.6,190.3L478.7,192.8L479.3,193.5L481.0,194.2L482.9,195.6L483.6,198.6L482.9,200.4L481.9,201.3L483.1,202.0L489.0,200.0L488.9,199.0L492.9,198.6L493.6,197.7L495.5,196.5L496.6,196.1L502.2,196.1L503.2,195.6L504.3,194.5L504.8,193.1L506.2,191.8L507.7,192.0L508.6,192.4L508.6,194.9L509.2,195.6L509.8,196.3L510.0,196.7L507.9,197.4L506.5,197.9L504.4,198.6L503.6,199.7L503.4,200.2L503.2,200.9L503.7,201.6L504.4,201.9L504.7,201.4L504.9,202.0L503.7,202.4L502.3,202.5L499.7,202.9L498.3,203.4L501.3,203.2L500.4,203.7L497.8,204.0L497.8,204.8L497.1,206.1L496.2,206.9L495.3,206.1L495.9,207.3L495.9,208.0L494.5,210.2L493.9,208.6L493.6,210.0L494.3,210.5L494.5,211.2L495.2,213.4L493.4,214.4L491.1,215.7L489.7,215.9L488.7,217.1L487.3,218.1L485.7,219.2L484.9,221.0L484.9,222.2L485.6,224.2L486.4,225.8L487.1,228.4L487.1,230.2L486.6,231.2L485.4,231.4L484.2,229.8L483.5,228.4L482.6,226.8L482.6,225.2L482.1,224.3L481.0,222.9L479.8,222.7L478.6,223.5L477.3,222.6L475.9,222.0L474.2,222.2L473.3,221.7L471.7,222.1L470.5,222.4L470.9,223.6L471.4,224.3L470.9,224.6L469.5,224.3L467.7,224.2L466.7,223.5L465.3,223.5L463.2,223.3L461.6,223.8L460.7,224.6L458.6,225.6L457.2,227.0L456.9,228.4L457.3,229.9L455.5,229.7L453.9,229.1L453.2,227.2L451.8,225.8L451.0,224.2L449.7,223.1L448.2,223.1L446.9,224.6L444.5,223.5L443.8,221.7L441.0,219.6L438.0,219.6L438.0,220.4L433.0,220.4L426.5,218.3L422.4,218.3L422.1,217.4L420.9,216.3L420.0,215.7L418.8,215.4L416.5,214.9L416.3,213.6L414.1,211.1L413.2,210.0L413.0,208.9L412.2,208.6L410.9,207.0L410.8,205.4L409.7,204.3L410.2,203.2L410.1,201.8L409.5,200.0L410.2,198.4L410.4,196.5L410.6,194.0L410.2,193.1L409.2,190.1L411.8,190.5L412.9,191.9L413.4,190.4ZM380.7,153.2L380.7,169.4L384.2,169.9L386.8,171.8L388.6,170.8L391.2,171.1L394.0,172.7L396.8,175.8L399.8,177.0L399.8,178.6L397.0,178.9L394.3,178.1L392.2,176.3L390.1,175.1L388.9,173.5L387.7,172.7L385.1,171.5L381.6,170.4L379.0,169.9L375.5,169.7L372.3,169.1L370.2,168.3L367.6,170.0L365.0,170.7L361.8,171.1L363.2,168.7L365.0,167.8L362.2,168.3L360.6,169.6L359.2,170.9L358.3,172.2L356.2,173.7L353.6,175.1L350.5,176.8L348.4,177.4L345.8,178.2L342.6,179.4L339.1,179.3L343.1,178.1L346.6,176.8L349.9,175.4L351.9,174.2L352.7,172.0L349.4,172.5L346.6,172.0L344.4,172.2L344.0,171.3L343.1,169.9L340.5,170.2L338.2,168.9L337.0,167.2L339.1,165.4L340.9,164.5L344.0,163.8L346.1,163.5L345.4,162.4L346.1,161.9L345.8,161.6L342.3,162.0L338.8,162.2L336.5,161.9L336.1,160.7L333.3,160.2L336.7,159.1L339.6,158.6L340.9,158.5L344.0,158.4L344.4,157.8L341.0,157.6L338.8,156.0L335.8,155.4L336.5,154.5L339.6,154.4L342.3,153.1L344.0,152.2L347.5,151.5L351.0,151.2L353.4,150.2L357.1,150.9L360.6,151.0L363.2,151.8L367.6,151.9L372.0,152.2L376.3,152.4ZM780.5,188.7L782.5,190.6L785.9,192.8L786.1,195.8L790.5,196.3L793.8,197.5L795.6,200.1L801.9,200.3L805.0,200.6L810.6,202.2L815.0,200.7L819.3,200.3L822.6,198.4L822.7,196.0L825.6,196.6L829.6,194.9L830.9,193.8L836.5,193.2L836.6,192.6L834.2,191.0L833.0,191.4L829.1,191.0L831.0,187.5L833.0,188.1L835.2,187.2L836.8,184.6L837.0,182.7L838.4,181.5L842.9,181.1L846.4,182.0L848.2,183.8L849.9,186.8L850.1,187.6L852.5,188.3L855.5,189.2L855.8,191.3L858.6,191.2L862.7,190.2L861.3,192.6L860.4,194.0L859.7,196.0L857.8,195.8L856.5,196.3L856.4,198.8L855.3,200.8L854.3,199.7L852.5,201.5L850.8,201.5L848.9,201.8L847.3,203.4L844.4,205.1L840.3,206.7L839.6,207.0L839.1,205.9L840.6,204.0L838.5,203.4L835.9,205.2L832.8,206.8L835.1,208.9L835.1,210.0L836.5,210.2L838.2,208.9L841.2,209.6L838.5,211.1L837.3,212.0L835.6,213.9L837.5,216.5L838.5,218.3L839.9,219.7L840.1,221.2L838.5,221.7L838.2,222.4L840.3,222.9L839.6,225.8L838.4,226.5L836.1,229.8L833.7,232.5L831.0,234.6L826.7,236.3L825.4,236.5L822.5,237.6L820.2,238.3L819.8,239.9L818.8,237.8L816.9,237.4L815.8,237.7L813.6,236.9L813.4,235.3L811.3,234.6L808.8,235.8L805.6,236.2L805.0,238.3L803.9,237.7L801.9,237.4L800.5,236.7L801.0,235.1L799.9,234.6L797.7,233.5L798.0,231.1L799.6,229.8L799.6,227.0L797.1,225.9L795.4,224.0L793.1,224.2L791.4,224.7L787.9,226.6L787.3,226.6L785.2,226.1L783.5,226.1L782.5,227.5L782.3,226.1L781.1,226.5L777.4,226.3L773.9,224.7L770.4,222.2L768.6,222.4L765.5,221.0L764.8,220.4L764.1,218.3L766.0,218.0L765.2,215.1L763.4,213.0L763.1,213.0L759.9,212.1L759.0,210.7L758.0,209.9L758.2,207.7L755.8,206.0L756.4,204.8L760.8,204.3L763.4,203.2L767.2,201.4L768.3,199.4L766.9,196.1L770.9,195.2L772.1,192.2L776.5,192.5L777.0,190.1L779.7,188.7ZM817.1,241.8L818.5,240.4L820.4,240.2L821.1,241.1L819.3,243.2L818.5,243.6L817.1,243.0Z"/>
<path fill="#1a521b" stroke-width="1.4" d="M357.1,174.2L359.4,173.4L361.1,173.7L360.6,174.8L358.3,175.5L356.9,175.1ZM354.5,240.0L356.2,240.7L356.6,241.3L355.2,242.3L354.5,241.1ZM353.3,238.6L354.5,238.8L354.0,239.3ZM350.5,237.6L351.5,237.9L351.0,238.2ZM347.8,236.5L348.7,236.7L348.4,237.0Z"/>
<path fill="#f5f8f3" d="M674.3,326.2L676.0,324.6L678.3,325.3L678.1,326.8L676.4,327.9L674.8,327.4Z"/>
<path fill="#e2f1e1" d="M681.3,322.1L683.2,321.5L683.0,319.9L681.4,319.9L680.9,321.1Z"/>
<path fill="none" stroke-width="1.1" d="M412.0,153.5 l2.9,0.7M417.1,152.4 l2.4,1.4M419.3,154.9 l-1.5,0.7M432.3,156.8 l-1.2,0.7M467.0,164.1 l-3.3,-0.8M519.2,187.6 l-0.7,-1.0M514.2,186.2 l0.9,-0.8M525.8,191.2 l-1.1,-1.1M504.5,165.7 l-1.8,-0.9M499.7,162.3 l2.7,-0.3M494.5,161.5 l1.9,-0.9M494.7,159.6 l2.4,0.6M475.4,145.1 l3.1,0.9M500.9,149.3 l2.7,1.3M505.0,151.6 l-2.6,0.3M513.0,156.0 l-2.0,0.5M518.1,156.5 l-2.5,1.5M511.5,159.8 l1.7,0.8M437.9,146.2 l2.9,0.8M439.7,155.9 l2.3,-1.3M431.6,155.7 l-1.2,-0.6M426.3,155.3 l1.4,-0.4M418.2,144.5 l2.1,0.6M420.9,149.4 l-2.4,-1.6M415.4,148.7 l-3.0,-1.7M409.8,148.7 l1.8,-0.9M474.4,142.0 l-3.0,-1.5M476.4,140.5 l-3.1,-1.5M479.9,142.7 l-2.1,-0.8M484.1,142.7 l-3.0,-0.7M492.6,137.9 l-2.7,-0.6M502.5,134.3 l-1.4,-0.4M504.8,135.5 l-3.2,-0.4M507.7,133.3 l-3.0,-1.3M512.6,129.5 l-1.9,0.9M500.1,129.0 l2.8,1.4M496.0,129.1 l-1.8,0.9M481.2,131.6 l-1.5,0.4M475.5,132.3 l-2.1,1.0M473.4,132.7 l1.4,-0.3M476.2,136.4 l2.7,1.6M461.6,135.7 l-2.5,1.2M467.1,135.0 l-3.0,1.4M472.2,133.9 l2.2,1.0M465.9,138.4 l-3.1,-1.5M463.5,136.6 l-1.9,-1.0M460.4,142.2 l2.2,1.1M463.7,139.8 l-2.1,1.3M476.4,143.3 l1.8,0.6M479.3,142.0 l-1.4,0.7M483.8,145.4 l-2.1,-0.4M481.1,144.1 l-2.0,-1.0M476.7,145.4 l-2.5,-0.9M474.0,143.5 l3.4,-0.7M464.3,143.2 l-3.0,-1.5M463.4,146.3 l3.1,0.9M465.4,144.7 l-1.6,0.3M453.6,144.7 l-3.3,0.7M425.1,141.3 l2.8,0.4M435.3,140.4 l1.2,0.5M428.4,145.4 l2.0,-1.0M451.0,142.1 l-2.2,1.1M451.6,144.2 l1.3,-0.6M421.7,139.2 l2.7,1.0M421.3,142.4 l2.6,-1.3M453.2,140.3 l2.3,-0.6M481.0,159.9 l-2.2,0.2M457.1,152.0 l1.3,0.8M490.6,148.6 l-1.6,-0.8M517.9,131.9 l2.8,1.4M525.0,130.4 l-4.3,1.9M526.9,132.3 l-3.1,0.8M529.2,130.3 l-4.7,1.6M531.2,132.4 l-2.5,0.6M534.3,130.6 l-3.2,1.3M538.4,132.1 l3.4,1.6M540.5,130.0 l-2.6,1.8M542.4,132.0 l2.1,1.0M544.3,129.9 l-1.8,0.9M546.6,131.4 l2.1,1.0M552.7,129.5 l-3.3,1.7M557.0,129.3 l-1.7,0.9M561.6,128.9 l-3.0,0.8M563.8,130.4 l2.3,1.2M568.2,129.8 l4.0,2.0M570.4,128.2 l-2.0,1.0M576.6,130.5 l4.3,2.1M579.1,129.0 l-3.0,0.8M585.8,131.4 l-2.4,1.2M587.5,130.2 l-3.0,1.5M590.3,131.8 l-1.9,0.7M596.4,130.9 l-3.7,0.9M597.6,133.1 l2.6,1.5M599.8,131.0 l-3.7,1.8M602.4,133.1 l2.0,1.0M604.8,134.2 l3.2,-1.5M600.9,133.0 l3.0,-1.5M600.2,135.2 l-3.3,-1.6M596.5,136.9 l-4.2,-0.9M591.9,147.6 l-4.7,-0.7M584.8,151.6 l-4.1,-1.1M580.5,153.2 l-4.1,-2.0M579.5,155.3 l-3.6,-1.6M576.9,154.6 l4.4,-1.6M570.2,158.3 l4.1,-2.0M565.7,159.6 l3.8,-1.9M563.4,158.5 l3.0,-1.5M559.3,159.6 l-3.7,-1.8M555.2,162.8 l-3.2,-0.4M545.7,168.0 l3.9,-1.9M538.8,163.3 l2.3,0.0M536.2,152.5 l-3.1,-1.5M534.0,154.2 l-2.8,-1.3M527.3,145.7 l4.2,-2.6M516.9,142.5 l2.0,-0.9M514.7,141.4 l3.2,-0.7M507.4,142.7 l1.9,-1.0M591.3,157.9 l-1.7,0.5M599.4,164.0 l-4.0,-0.7M596.3,162.7 l3.0,-1.0M586.5,161.4 l-2.2,-0.6M716.7,155.9 l1.1,0.6M725.0,154.5 l-1.7,0.5M736.0,153.9 l-1.8,0.9M781.3,143.1 l1.6,0.4M795.3,142.5 l1.6,0.3M822.8,144.5 l-2.0,-0.4M845.1,147.1 l-1.6,1.0M864.4,149.6 l1.6,0.3M880.6,147.8 l-1.9,1.0M896.9,151.0 l-0.8,0.3M899.5,152.4 l-1.2,0.4M743.5,140.3 l-1.3,0.8M727.2,142.7 l1.8,0.9M795.7,134.4 l1.3,0.8M803.7,135.0 l-1.2,0.6M805.4,134.2 l-1.0,0.5M808.2,136.7 l1.0,-0.5M805.0,137.7 l-1.5,-0.5"/>
<path fill="none" stroke-width="3.0" stroke-linecap="round" d="M498.0,347.5L497.3,351.4L496.0,354.8L496.2,358.2L496.0,361.6L497.4,364.7L499.9,367.2L503.4,368.9L506.9,369.9L510.4,369.9"/>
<path fill="none" stroke-width="2.0" stroke-linecap="round" d="M500.4,365.6L503.9,367.0L506.5,368.7"/>
<path fill="none" stroke-width="2.2" stroke-linecap="round" d="M388.6,173.0L391.2,175.1L393.5,177.2L396.4,179.3L399.6,181.0L401.7,183.1L403.4,185.2L406.9,187.2"/>
<path fill="none" stroke-width="1.6" stroke-linecap="round" d="M360.6,173.4L364.1,170.9L368.5,169.6"/>
<path fill="none" stroke-width="1.6" stroke-linecap="round" d="M616.6,176.8L616.6,174.6L617.5,172.8"/>
<path fill="none" stroke-width="1.5" stroke-linecap="round" d="M515.3,169.9L518.8,173.7L522.2,177.5"/>
<path fill="none" stroke-width="1.5" stroke-linecap="round" d="M487.3,147.3L478.6,145.3L466.3,143.4L455.8,142.1"/>
</g></svg>
<svg class="abs" style="left:290px;top:112px" width="50" height="124" viewBox="290 112 50 124">
<g fill="#064a08">
<rect x="304" y="118" width="18" height="54.2" rx="9" ry="9"/>
<rect x="294.8" y="135.5" width="36.4" height="18.5" rx="9.2" ry="9.2"/>
<rect x="304" y="177.3" width="18" height="53.4" rx="9" ry="9"/>
</g>
<g fill="#ffffff">
<path d="M313 122.1 L318.2 130.4 L307.8 130.4 Z"/>
<path d="M313 168.1 L318.2 159.7 L307.8 159.7 Z"/>
<path d="M298.7 144.8 L307.2 139.9 L307.2 149.7 Z"/>
<path d="M327.2 144.8 L318.6 139.9 L318.6 149.7 Z"/>
<rect x="308.2" y="186" width="9.6" height="1.9"/>
<rect x="312.05" y="182.2" width="1.9" height="9.6"/>
<rect x="308.2" y="219.6" width="9.6" height="1.9"/>
</g>
<g fill="none" stroke="#b9bdf2" stroke-width="0.8">
<circle cx="313.1" cy="203.6" r="7.9" fill="#2a4a58" stroke-width="1.1"/>
<ellipse cx="313.1" cy="203.6" rx="3.9" ry="7.9"/>
<path d="M313.1 195.7 V211.5 M305.2 203.6 H321 M306.3 199.6 H319.9 M306.3 207.6 H319.9"/>
</g>
</svg>


<!-- legend gradient -->
<div class="abs" style="left:287px;top:440px;width:150px;height:20px;background:linear-gradient(to right,#ffffff 0%,#e3f0e1 12%,#a9d3a6 35%,#4e9e4c 62%,#127814 82%,#0a5f0c 91%,#004400 100%)"></div>
<div class="line" style="left:277px;top:470px;width:715px"></div>
<div class="h" style="left:297px;top:481px">Report View by Selection</div>
<div class="h blue" style="left:901px;top:481px">Customize</div>

<!-- table -->
<div class="abs" style="left:277px;top:506px;width:710px;height:39px;background:#f4f4f4;border-top:1px solid #d6d6d6"></div>
<div class="th" style="left:291px;top:510px">Total:</div>
<div class="th" style="left:300px;top:526px">5</div>
<div class="th" style="left:358px;top:518px">Research Fields</div>
<div class="th" style="left:493.5px;top:510px">Web of Science</div>
<div class="th" style="left:502px;top:526px">Documents</div>
<div class="th" style="left:635.5px;top:518px;color:#4b7a9d">Cites</div>
<svg class="abs" style="left:673px;top:522px" width="9" height="6"><path d="M0.5 0.8 H7.8 L4.15 4.8 Z" fill="#5c8fb5"/></svg>
<div class="th" style="left:734.5px;top:518px">Cites/Paper</div>
<div class="th" style="left:870px;top:518px">Top Papers</div>

<div class="rowbg" style="top:545px;height:165px"></div>
<div class="rline" style="top:577px"></div>
<div class="rline" style="top:624px"></div>
<div class="rline" style="top:658px"></div>
<div class="rline" style="top:684px"></div>
<div class="rline" style="top:710px"></div>

<!-- row 1 -->
<div class="num" style="left:254px;top:553px">1</div>
<div class="fld" style="top:546.5px">CLINICAL<br>MEDICINE</div>
<div class="num" style="left:522px;top:553px">2,529</div>
<div class="num" style="left:634px;top:553px">32,302</div>
<div class="num" style="left:751px;top:553px">12.77</div>
<div class="bar full" style="top:551px"><span>41</span></div>
<!-- row 2 -->
<div class="num" style="left:254px;top:592.5px">2</div>
<div class="fld" style="top:580px">PHARMACOLOG<br>Y &amp;<br>TOXICOLOGY</div>
<div class="num" style="left:522px;top:592.5px">1,056</div>
<div class="num" style="left:634px;top:592.5px">11,242</div>
<div class="num" style="left:751px;top:592.5px">10.65</div>
<div class="bar" style="top:591.5px"><b style="width:7px"></b><span>3</span></div>
<!-- row 3 -->
<div class="num" style="left:254px;top:634px">3</div>
<div class="fld" style="top:628px">BIOLOGY &amp;<br>BIOCHEMISTRY</div>
<div class="num" style="left:522px;top:634px">802</div>
<div class="num" style="left:634px;top:634px">9,217</div>
<div class="num" style="left:751px;top:634px">11.49</div>
<div class="bar" style="top:632px"><b style="width:5px"></b><span>2</span></div>
<!-- row 4 -->
<div class="num" style="left:254px;top:664px">4</div>
<div class="fld" style="top:665px">CHEMISTRY</div>
<div class="num" style="left:522px;top:664px">953</div>
<div class="num" style="left:634px;top:664px">8,202</div>
<div class="num" style="left:751px;top:664px">8.61</div>
<div class="bar" style="top:662px"><b style="width:2.5px"></b><span>1</span></div>
<!-- row 5 -->
<div class="num" style="left:254px;top:690px">0</div>
<div class="fld" style="top:691px">ALL FIELDS</div>
<div class="num" style="left:522px;top:690px">8,418</div>
<div class="num" style="left:634px;top:690px">98,927</div>
<div class="num" style="left:751px;top:690px">11.75</div>
<div class="bar full" style="top:688px;height:17.7px"><span>80</span></div>

<svg class="abs" style="left:292px;top:647px" width="706" height="44" viewBox="292 647 706 44"><rect x="297.35" y="652.85" width="693.8" height="31.8" rx="3.6" ry="3.6" fill="none" stroke="#e4271d" stroke-width="3.3"/></svg>

<svg class="abs" style="left:875px;top:675px" width="148" height="50" viewBox="875 675 148 50">
<g fill="none" stroke="#ffffff" stroke-linecap="round" stroke-linejoin="round" opacity="0.82">
<circle cx="900" cy="697.4" r="17.6" stroke-width="1.3"/>
<circle cx="900" cy="697.4" r="11.2" stroke-width="0.9" stroke-dasharray="2.2 1.3"/>
<path stroke-width="1.2" d="M894 694.5 H906 M900 692 V704 M895.5 698.5 Q897.5 696.5 900 699 Q902.5 696.5 904.5 698.5 M896.5 701.5 Q900 704 903.5 701.5"/>
<path stroke-width="0.9" d="M889 689 L891 691 M911 689 L909 691 M898 684.5 L899 686.5 M902 684.5 L901 686.5 M888.5 702 L890 704.5 M911.5 702 L910 704.5"/>
<!-- brush strokes imitating calligraphy -->
<g stroke-width="1.25">
<path d="M934.5 687.5 L930.5 694 M927.5 691.8 L937 690.5 M929.5 695 L936.5 694.2 M933.2 694 Q932.5 699.5 927.5 703.5 M931.8 699.3 L936.5 704"/>
<path d="M942.5 692 Q942.8 698 940.8 701.5 M946 690.5 L945.8 700.5 M950 689.5 L950.2 703 M943.8 695.5 l0.9 1.2 M947.8 694.6 l0.9 1.2"/>
<path d="M955.5 690.5 L965 689.4 M955.8 690.8 L956.2 701.5 L965.5 700.6 M958.5 693.6 L963.5 693 M957.8 696.8 L964.5 696 M961 693.4 Q961 698 958.6 700 M961.3 697 L964 699.6"/>
<path d="M969 692.8 L974 692 M971.6 689.6 L971.4 703 M971.4 695 L968.6 699.4 M971.6 695.4 L973.6 697.6 M976 691 l1.2 1.1 M975.6 694.4 l1.3 1.1 M974.6 698 L981 696.8 M978.8 689.4 L978.6 703.4"/>
<path d="M985 694.6 L996 693.4 M990.6 688.6 Q990.4 697.5 985 703 M990.6 696 Q992.6 700.6 996.4 702.6"/>
<path d="M1000 688.6 l1 1.6 M1003 688 l0.4 1.8 M1006.6 688 l-1.2 1.9 M998.6 692.4 L1008.6 691.4 L1007.6 693.4 M1000.6 695.2 L1006 694.6 L1003.6 697 M998 698.6 L1009 697.4 M1003.6 697 Q1004.6 703.4 1002 704.6 L1000.6 703.2"/>
</g>
<path stroke-width="0.7" opacity="0.8" d="M893 710.8 H1001" stroke-dasharray="2.4 1"/>
</g>
</svg>

</body>
</html>
